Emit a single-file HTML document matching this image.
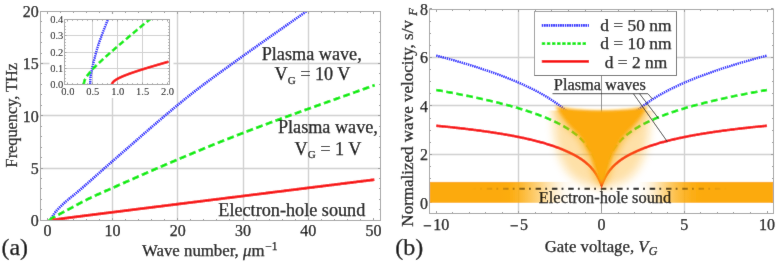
<!DOCTYPE html>
<html><head><meta charset="utf-8"><style>
html,body{margin:0;padding:0;background:#fff;}
body{width:780px;height:262px;overflow:hidden;font-family:"Liberation Serif",serif;}
svg{display:block;}
text{stroke:#000;stroke-width:0.25px;}
.thin text{stroke-width:0.02px;}
</style></head><body>
<svg width="780" height="262" viewBox="0 0 780 262">
<defs>
<clipPath id="cl"><rect x="40.5" y="11.5" width="340.0" height="209.0"/></clipPath>
<clipPath id="ci"><rect x="64.5" y="19.5" width="105.0" height="65.0"/></clipPath>
<clipPath id="cr"><rect x="429.5" y="9.5" width="344.0" height="204.0"/></clipPath>
<filter id="bl1" x="-50%" y="-50%" width="200%" height="200%"><feGaussianBlur stdDeviation="1.8"/></filter>
<clipPath id="cf"><rect x="430" y="110.5" width="344" height="103"/></clipPath>
<filter id="bl3" x="-50%" y="-50%" width="200%" height="200%"><feGaussianBlur stdDeviation="3.5"/></filter>
<filter id="bl2" x="-50%" y="-50%" width="200%" height="200%"><feGaussianBlur stdDeviation="5"/></filter>
<linearGradient id="band" x1="0" x2="1" y1="0" y2="0"><stop offset="0.2049" stop-color="#fcaa0a" stop-opacity="1.00"/><stop offset="0.2340" stop-color="#fcaa0a" stop-opacity="0.97"/><stop offset="0.2602" stop-color="#fcaa0a" stop-opacity="0.87"/><stop offset="0.2922" stop-color="#fcaa0a" stop-opacity="0.68"/><stop offset="0.3212" stop-color="#fcaa0a" stop-opacity="0.50"/><stop offset="0.3445" stop-color="#fcaa0a" stop-opacity="0.33"/><stop offset="0.3677" stop-color="#fcaa0a" stop-opacity="0.18"/><stop offset="0.3910" stop-color="#fcaa0a" stop-opacity="0.07"/><stop offset="0.4201" stop-color="#fcaa0a" stop-opacity="0.00"/><stop offset="0.6061" stop-color="#fcaa0a" stop-opacity="0.00"/><stop offset="0.6294" stop-color="#fcaa0a" stop-opacity="0.08"/><stop offset="0.6497" stop-color="#fcaa0a" stop-opacity="0.20"/><stop offset="0.6701" stop-color="#fcaa0a" stop-opacity="0.38"/><stop offset="0.6933" stop-color="#fcaa0a" stop-opacity="0.58"/><stop offset="0.7166" stop-color="#fcaa0a" stop-opacity="0.74"/><stop offset="0.7398" stop-color="#fcaa0a" stop-opacity="0.86"/><stop offset="0.7631" stop-color="#fcaa0a" stop-opacity="0.95"/><stop offset="0.7922" stop-color="#fcaa0a" stop-opacity="1.00"/></linearGradient>
<linearGradient id="lg" gradientUnits="userSpaceOnUse" x1="429.5" x2="773.5" y1="0" y2="0"><stop offset="0.1235" stop-color="#a06600" stop-opacity="0.00"/><stop offset="0.1672" stop-color="#955f00" stop-opacity="0.20"/><stop offset="0.2195" stop-color="#7a4d00" stop-opacity="0.40"/><stop offset="0.2631" stop-color="#553500" stop-opacity="0.62"/><stop offset="0.3154" stop-color="#2a1a00" stop-opacity="0.85"/><stop offset="0.3648" stop-color="#111111" stop-opacity="1.00"/><stop offset="0.6555" stop-color="#111111" stop-opacity="1.00"/><stop offset="0.6933" stop-color="#2a1a00" stop-opacity="0.80"/><stop offset="0.7398" stop-color="#553500" stop-opacity="0.60"/><stop offset="0.7922" stop-color="#7a4d00" stop-opacity="0.38"/><stop offset="0.8299" stop-color="#955f00" stop-opacity="0.20"/><stop offset="0.8677" stop-color="#a06600" stop-opacity="0.00"/></linearGradient>
<filter id="soft" x="0" y="0" width="780" height="262" filterUnits="userSpaceOnUse"><feConvolveMatrix order="3" kernelMatrix="0.0120 0.0480 0.0120 0.0480 0.7600 0.0480 0.0120 0.0480 0.0120" divisor="1" edgeMode="duplicate" preserveAlpha="true"/></filter>
</defs>
<rect width="780" height="262" fill="#fff"/>
<g filter="url(#soft)">
<rect width="780" height="262" fill="#fff"/>
<path d="M112.5,11.5V220.5M177.5,11.5V220.5M243.5,11.5V220.5M308.5,11.5V220.5M40.5,168.5H380.5M40.5,115.5H380.5M40.5,63.5H380.5" stroke="#d0d0d0" stroke-width="1.4" fill="none"/>
<path d="M47.5,220.5v-2.5M47.5,11.5v2.5M112.5,220.5v-2.5M112.5,11.5v2.5M177.5,220.5v-2.5M177.5,11.5v2.5M243.5,220.5v-2.5M243.5,11.5v2.5M308.5,220.5v-2.5M308.5,11.5v2.5M373.5,220.5v-2.5M373.5,11.5v2.5M60.5,220.5v-1.5M60.5,11.5v1.5M73.5,220.5v-1.5M73.5,11.5v1.5M86.5,220.5v-1.5M86.5,11.5v1.5M99.5,220.5v-1.5M99.5,11.5v1.5M125.5,220.5v-1.5M125.5,11.5v1.5M138.5,220.5v-1.5M138.5,11.5v1.5M151.5,220.5v-1.5M151.5,11.5v1.5M164.5,220.5v-1.5M164.5,11.5v1.5M190.5,220.5v-1.5M190.5,11.5v1.5M203.5,220.5v-1.5M203.5,11.5v1.5M216.5,220.5v-1.5M216.5,11.5v1.5M229.5,220.5v-1.5M229.5,11.5v1.5M256.5,220.5v-1.5M256.5,11.5v1.5M269.5,220.5v-1.5M269.5,11.5v1.5M282.5,220.5v-1.5M282.5,11.5v1.5M295.5,220.5v-1.5M295.5,11.5v1.5M321.5,220.5v-1.5M321.5,11.5v1.5M334.5,220.5v-1.5M334.5,11.5v1.5M347.5,220.5v-1.5M347.5,11.5v1.5M360.5,220.5v-1.5M360.5,11.5v1.5M40.5,220.5h2.5M380.5,220.5h-2.5M40.5,168.5h2.5M380.5,168.5h-2.5M40.5,115.5h2.5M380.5,115.5h-2.5M40.5,63.5h2.5M380.5,63.5h-2.5M40.5,11.5h2.5M380.5,11.5h-2.5M40.5,209.5h1.5M380.5,209.5h-1.5M40.5,199.5h1.5M380.5,199.5h-1.5M40.5,188.5h1.5M380.5,188.5h-1.5M40.5,178.5h1.5M380.5,178.5h-1.5M40.5,157.5h1.5M380.5,157.5h-1.5M40.5,147.5h1.5M380.5,147.5h-1.5M40.5,136.5h1.5M380.5,136.5h-1.5M40.5,126.5h1.5M380.5,126.5h-1.5M40.5,105.5h1.5M380.5,105.5h-1.5M40.5,94.5h1.5M380.5,94.5h-1.5M40.5,84.5h1.5M380.5,84.5h-1.5M40.5,73.5h1.5M380.5,73.5h-1.5M40.5,53.5h1.5M380.5,53.5h-1.5M40.5,42.5h1.5M380.5,42.5h-1.5M40.5,32.5h1.5M380.5,32.5h-1.5M40.5,21.5h1.5M380.5,21.5h-1.5" stroke="#9a9a9a" stroke-width="1" fill="none"/>
<g clip-path="url(#cl)" fill="none">
<path d="M50.40,220.30 L50.40,220.30 L50.40,220.29 L50.41,220.28 L50.42,220.26 L50.43,220.24 L50.44,220.22 L50.46,220.19 L50.47,220.15 L50.49,220.11 L50.52,220.07 L50.54,220.02 L50.57,219.96 L50.60,219.90 L50.63,219.84 L50.66,219.77 L50.70,219.69 L50.73,219.62 L50.78,219.53 L50.82,219.44 L50.86,219.35 L50.91,219.25 L50.96,219.15 L51.01,219.04 L51.07,218.93 L51.13,218.81 L51.18,218.69 L51.25,218.56 L51.31,218.43 L51.38,218.30 L51.44,218.16 L51.52,218.02 L51.59,217.87 L51.66,217.73 L51.74,217.58 L51.82,217.42 L51.90,217.27 L51.99,217.12 L52.08,216.96 L52.17,216.80 L52.26,216.64 L52.35,216.48 L52.45,216.31 L52.55,216.15 L52.65,215.98 L52.75,215.80 L52.86,215.63 L52.97,215.46 L53.08,215.28 L53.19,215.11 L53.30,214.93 L53.42,214.75 L53.54,214.57 L53.66,214.39 L53.79,214.22 L53.91,214.04 L54.04,213.86 L54.17,213.68 L54.31,213.50 L54.44,213.31 L54.58,213.13 L54.72,212.94 L54.86,212.75 L55.01,212.57 L55.16,212.38 L55.31,212.19 L55.46,211.99 L55.61,211.80 L55.77,211.61 L55.93,211.41 L56.09,211.22 L56.25,211.02 L56.42,210.83 L56.59,210.63 L56.76,210.43 L56.93,210.23 L57.11,210.03 L57.29,209.83 L57.47,209.63 L57.65,209.43 L57.83,209.23 L58.02,209.03 L58.21,208.83 L58.40,208.62 L58.60,208.42 L58.79,208.21 L58.99,208.01 L59.19,207.80 L59.39,207.60 L59.60,207.39 L59.81,207.18 L60.02,206.97 L60.23,206.76 L60.45,206.54 L60.66,206.33 L60.88,206.12 L61.10,205.90 L61.33,205.69 L61.56,205.47 L61.78,205.25 L62.02,205.03 L62.25,204.81 L62.48,204.59 L62.72,204.37 L62.96,204.15 L63.21,203.93 L63.45,203.70 L63.70,203.48 L63.95,203.25 L64.20,203.03 L64.45,202.80 L64.71,202.57 L64.97,202.34 L65.23,202.11 L65.50,201.88 L65.76,201.65 L66.03,201.42 L66.30,201.18 L66.57,200.95 L66.85,200.72 L67.13,200.48 L67.41,200.24 L67.69,200.00 L67.97,199.77 L68.26,199.53 L68.55,199.29 L68.84,199.04 L69.13,198.80 L69.43,198.56 L69.73,198.31 L70.03,198.06 L70.33,197.82 L70.64,197.57 L70.95,197.32 L71.26,197.06 L71.57,196.81 L71.88,196.55 L72.20,196.30 L72.52,196.04 L72.84,195.78 L73.17,195.52 L73.49,195.25 L73.82,194.99 L74.15,194.72 L74.49,194.45 L74.82,194.18 L75.16,193.90 L75.50,193.62 L75.84,193.34 L76.19,193.06 L76.54,192.78 L76.88,192.49 L77.24,192.20 L77.59,191.90 L77.95,191.61 L78.31,191.31 L78.67,191.00 L79.03,190.70 L79.40,190.39 L79.77,190.07 L80.14,189.75 L80.51,189.43 L80.88,189.10 L81.26,188.77 L81.64,188.44 L82.02,188.11 L82.41,187.77 L82.80,187.43 L83.18,187.09 L83.58,186.75 L83.97,186.40 L84.37,186.05 L84.76,185.70 L85.16,185.35 L85.57,185.00 L85.97,184.64 L86.38,184.28 L86.79,183.92 L87.20,183.55 L87.62,183.19 L88.04,182.82 L88.45,182.45 L88.88,182.07 L89.30,181.70 L89.73,181.32 L90.16,180.94 L90.59,180.56 L91.02,180.18 L91.45,179.79 L91.89,179.40 L92.33,179.01 L92.78,178.62 L93.22,178.22 L93.67,177.83 L94.12,177.43 L94.57,177.03 L95.02,176.62 L95.48,176.22 L95.94,175.81 L96.40,175.40 L96.86,174.99 L97.33,174.57 L97.80,174.16 L98.27,173.74 L98.74,173.32 L99.22,172.90 L99.69,172.48 L100.17,172.05 L100.65,171.62 L101.14,171.19 L101.63,170.76 L102.11,170.33 L102.61,169.90 L103.10,169.46 L103.60,169.02 L104.09,168.58 L104.59,168.14 L105.10,167.69 L105.60,167.25 L106.11,166.80 L106.62,166.35 L107.13,165.90 L107.65,165.45 L108.16,165.00 L108.68,164.54 L109.21,164.08 L109.73,163.63 L110.26,163.17 L110.78,162.70 L111.31,162.24 L111.85,161.78 L112.38,161.31 L112.92,160.85 L113.46,160.38 L114.00,159.91 L114.55,159.43 L115.10,158.96 L115.65,158.48 L116.20,158.00 L116.75,157.52 L117.31,157.03 L117.87,156.54 L118.43,156.06 L118.99,155.56 L119.56,155.07 L120.12,154.57 L120.69,154.08 L121.27,153.58 L121.84,153.08 L122.42,152.57 L123.00,152.06 L123.58,151.56 L124.17,151.05 L124.75,150.53 L125.34,150.02 L125.93,149.50 L126.53,148.98 L127.12,148.46 L127.72,147.94 L128.32,147.41 L128.92,146.89 L129.53,146.36 L130.14,145.83 L130.75,145.29 L131.36,144.76 L131.97,144.22 L132.59,143.68 L133.21,143.14 L133.83,142.60 L134.45,142.05 L135.08,141.50 L135.71,140.95 L136.34,140.40 L136.97,139.85 L137.61,139.29 L138.25,138.74 L138.89,138.18 L139.53,137.62 L140.17,137.06 L140.82,136.49 L141.47,135.93 L142.12,135.36 L142.77,134.79 L143.43,134.22 L144.09,133.64 L144.75,133.07 L145.41,132.49 L146.08,131.91 L146.75,131.33 L147.42,130.75 L148.09,130.17 L148.76,129.58 L149.44,128.99 L150.12,128.41 L150.80,127.82 L151.49,127.22 L152.17,126.63 L152.86,126.04 L153.55,125.44 L154.25,124.84 L154.94,124.24 L155.64,123.64 L156.34,123.04 L157.04,122.44 L157.75,121.83 L158.46,121.22 L159.17,120.62 L159.88,120.01 L160.59,119.40 L161.31,118.79 L162.03,118.17 L162.75,117.56 L163.47,116.94 L164.20,116.33 L164.93,115.71 L165.66,115.09 L166.39,114.47 L167.13,113.85 L167.87,113.22 L168.61,112.60 L169.35,111.98 L170.09,111.35 L170.84,110.72 L171.59,110.10 L172.34,109.47 L173.09,108.84 L173.85,108.21 L174.61,107.58 L175.37,106.95 L176.13,106.31 L176.90,105.68 L177.67,105.05 L178.44,104.41 L179.21,103.78 L179.98,103.14 L180.76,102.50 L181.54,101.87 L182.32,101.23 L183.11,100.59 L183.89,99.95 L184.68,99.31 L185.47,98.67 L186.26,98.04 L187.06,97.40 L187.86,96.75 L188.66,96.11 L189.46,95.47 L190.27,94.83 L191.07,94.19 L191.88,93.55 L192.70,92.91 L193.51,92.28 L194.33,91.64 L195.15,91.00 L195.97,90.37 L196.79,89.73 L197.62,89.10 L198.44,88.46 L199.27,87.83 L200.11,87.19 L200.94,86.56 L201.78,85.93 L202.62,85.29 L203.46,84.66 L204.31,84.03 L205.15,83.40 L206.00,82.76 L206.85,82.13 L207.71,81.50 L208.56,80.87 L209.42,80.23 L210.28,79.60 L211.15,78.97 L212.01,78.33 L212.88,77.70 L213.75,77.06 L214.62,76.43 L215.50,75.79 L216.37,75.16 L217.25,74.52 L218.13,73.88 L219.02,73.24 L219.90,72.60 L220.79,71.96 L221.68,71.32 L222.58,70.68 L223.47,70.03 L224.37,69.39 L225.27,68.74 L226.17,68.09 L227.08,67.44 L227.99,66.79 L228.90,66.14 L229.81,65.48 L230.72,64.83 L231.64,64.17 L232.56,63.51 L233.48,62.85 L234.40,62.18 L235.33,61.52 L236.26,60.85 L237.19,60.17 L238.12,59.50 L239.05,58.83 L239.99,58.15 L240.93,57.47 L241.87,56.80 L242.82,56.12 L243.76,55.44 L244.71,54.76 L245.66,54.08 L246.62,53.40 L247.57,52.71 L248.53,52.03 L249.49,51.34 L250.46,50.66 L251.42,49.97 L252.39,49.28 L253.36,48.59 L254.33,47.90 L255.31,47.21 L256.28,46.52 L257.26,45.83 L258.24,45.13 L259.23,44.44 L260.21,43.74 L261.20,43.04 L262.19,42.34 L263.19,41.64 L264.18,40.94 L265.18,40.24 L266.18,39.53 L267.18,38.83 L268.19,38.12 L269.19,37.41 L270.20,36.70 L271.22,35.99 L272.23,35.28 L273.25,34.57 L274.26,33.85 L275.29,33.14 L276.31,32.42 L277.33,31.70 L278.36,30.98 L279.39,30.26 L280.43,29.53 L281.46,28.81 L282.50,28.08 L283.54,27.35 L284.58,26.62 L285.62,25.89 L286.67,25.16 L287.72,24.43 L288.77,23.69 L289.82,22.95 L290.88,22.21 L291.94,21.47 L293.00,20.73 L294.06,19.98 L295.13,19.24 L296.19,18.49 L297.26,17.74 L298.34,16.99 L299.41,16.23 L300.49,15.48 L301.57,14.72 L302.65,13.96 L303.73,13.20 L304.82,12.43 L305.91,11.67 L307.00,10.90 L308.09,10.13 L309.19,9.36 L310.28,8.59 L311.03,8.06" stroke="#0a0aff" stroke-width="2.6" stroke-dasharray="1.35 0.85"/>
<path d="M49.55,220.30 L49.55,220.30 L49.56,220.30 L49.56,220.29 L49.57,220.28 L49.58,220.27 L49.60,220.26 L49.62,220.24 L49.63,220.22 L49.66,220.20 L49.68,220.17 L49.71,220.15 L49.74,220.12 L49.77,220.09 L49.81,220.05 L49.84,220.01 L49.88,219.97 L49.93,219.93 L49.97,219.88 L50.02,219.84 L50.07,219.78 L50.13,219.73 L50.18,219.67 L50.24,219.61 L50.30,219.55 L50.36,219.49 L50.43,219.42 L50.50,219.35 L50.57,219.28 L50.65,219.21 L50.72,219.14 L50.80,219.06 L50.88,218.99 L50.97,218.91 L51.06,218.83 L51.14,218.76 L51.24,218.68 L51.33,218.61 L51.43,218.54 L51.53,218.47 L51.63,218.40 L51.74,218.33 L51.85,218.26 L51.96,218.19 L52.07,218.13 L52.19,218.06 L52.30,217.99 L52.42,217.93 L52.55,217.86 L52.67,217.80 L52.80,217.73 L52.93,217.67 L53.07,217.60 L53.21,217.53 L53.34,217.46 L53.49,217.39 L53.63,217.32 L53.78,217.24 L53.93,217.16 L54.08,217.08 L54.23,216.99 L54.39,216.90 L54.55,216.82 L54.71,216.73 L54.88,216.64 L55.05,216.55 L55.22,216.45 L55.39,216.36 L55.57,216.26 L55.74,216.17 L55.92,216.07 L56.11,215.97 L56.29,215.87 L56.48,215.77 L56.67,215.66 L56.87,215.56 L57.06,215.45 L57.26,215.35 L57.46,215.24 L57.67,215.13 L57.88,215.02 L58.08,214.90 L58.30,214.79 L58.51,214.67 L58.73,214.56 L58.95,214.44 L59.17,214.32 L59.40,214.20 L59.62,214.08 L59.85,213.96 L60.09,213.83 L60.32,213.71 L60.56,213.58 L60.80,213.45 L61.04,213.32 L61.29,213.19 L61.54,213.06 L61.79,212.92 L62.04,212.79 L62.30,212.65 L62.56,212.51 L62.82,212.38 L63.08,212.24 L63.35,212.09 L63.62,211.95 L63.89,211.81 L64.17,211.66 L64.44,211.52 L64.72,211.37 L65.00,211.22 L65.29,211.07 L65.58,210.91 L65.87,210.76 L66.16,210.61 L66.45,210.45 L66.75,210.29 L67.05,210.13 L67.36,209.97 L67.66,209.81 L67.97,209.65 L68.28,209.48 L68.59,209.32 L68.91,209.15 L69.23,208.98 L69.55,208.81 L69.87,208.64 L70.20,208.46 L70.53,208.29 L70.86,208.11 L71.20,207.93 L71.53,207.75 L71.87,207.57 L72.21,207.38 L72.56,207.20 L72.91,207.01 L73.26,206.82 L73.61,206.63 L73.96,206.44 L74.32,206.24 L74.68,206.05 L75.04,205.85 L75.41,205.65 L75.78,205.45 L76.15,205.25 L76.52,205.05 L76.90,204.84 L77.28,204.64 L77.66,204.43 L78.04,204.22 L78.43,204.02 L78.82,203.81 L79.21,203.59 L79.60,203.38 L80.00,203.17 L80.40,202.96 L80.80,202.74 L81.20,202.53 L81.61,202.31 L82.02,202.09 L82.43,201.88 L82.85,201.66 L83.26,201.44 L83.68,201.22 L84.11,201.00 L84.53,200.78 L84.96,200.57 L85.39,200.35 L85.82,200.13 L86.26,199.91 L86.70,199.69 L87.14,199.47 L87.58,199.25 L88.03,199.03 L88.48,198.81 L88.93,198.60 L89.38,198.38 L89.84,198.16 L90.30,197.94 L90.76,197.72 L91.22,197.50 L91.69,197.27 L92.16,197.05 L92.63,196.83 L93.11,196.61 L93.59,196.39 L94.06,196.16 L94.55,195.94 L95.03,195.72 L95.52,195.49 L96.01,195.27 L96.50,195.04 L97.00,194.82 L97.50,194.59 L98.00,194.37 L98.50,194.14 L99.01,193.91 L99.52,193.68 L100.03,193.45 L100.54,193.22 L101.06,192.99 L101.58,192.76 L102.10,192.53 L102.62,192.30 L103.15,192.06 L103.68,191.83 L104.21,191.59 L104.74,191.36 L105.28,191.12 L105.82,190.88 L106.36,190.64 L106.91,190.40 L107.46,190.16 L108.01,189.92 L108.56,189.68 L109.11,189.43 L109.67,189.19 L110.23,188.94 L110.80,188.69 L111.36,188.44 L111.93,188.19 L112.50,187.93 L113.07,187.68 L113.65,187.42 L114.23,187.17 L114.81,186.91 L115.39,186.65 L115.98,186.39 L116.57,186.13 L117.16,185.86 L117.76,185.60 L118.35,185.34 L118.95,185.07 L119.56,184.80 L120.16,184.54 L120.77,184.27 L121.38,184.00 L121.99,183.72 L122.61,183.45 L123.22,183.18 L123.84,182.90 L124.47,182.63 L125.09,182.35 L125.72,182.07 L126.35,181.79 L126.98,181.51 L127.62,181.23 L128.26,180.95 L128.90,180.67 L129.54,180.38 L130.19,180.10 L130.84,179.81 L131.49,179.53 L132.15,179.24 L132.80,178.95 L133.46,178.66 L134.12,178.37 L134.79,178.07 L135.46,177.78 L136.13,177.48 L136.80,177.19 L137.47,176.89 L138.15,176.59 L138.83,176.30 L139.51,176.00 L140.20,175.70 L140.89,175.39 L141.58,175.09 L142.27,174.79 L142.97,174.48 L143.67,174.18 L144.37,173.87 L145.07,173.56 L145.78,173.25 L146.48,172.94 L147.20,172.63 L147.91,172.32 L148.63,172.01 L149.35,171.70 L150.07,171.38 L150.79,171.07 L151.52,170.75 L152.25,170.43 L152.98,170.11 L153.72,169.79 L154.45,169.47 L155.19,169.15 L155.94,168.83 L156.68,168.51 L157.43,168.18 L158.18,167.86 L158.93,167.53 L159.69,167.21 L160.45,166.88 L161.21,166.55 L161.97,166.22 L162.74,165.89 L163.51,165.56 L164.28,165.23 L165.05,164.90 L165.83,164.56 L166.61,164.23 L167.39,163.89 L168.17,163.56 L168.96,163.22 L169.75,162.88 L170.54,162.54 L171.34,162.20 L172.13,161.86 L172.93,161.52 L173.74,161.18 L174.54,160.84 L175.35,160.49 L176.16,160.15 L176.97,159.80 L177.79,159.46 L178.60,159.11 L179.43,158.76 L180.25,158.42 L181.07,158.07 L181.90,157.72 L182.73,157.37 L183.57,157.02 L184.40,156.66 L185.24,156.31 L186.08,155.96 L186.93,155.61 L187.78,155.25 L188.62,154.90 L189.48,154.54 L190.33,154.18 L191.19,153.83 L192.05,153.47 L192.91,153.11 L193.77,152.75 L194.64,152.39 L195.51,152.03 L196.39,151.67 L197.26,151.30 L198.14,150.94 L199.02,150.58 L199.90,150.21 L200.79,149.85 L201.68,149.48 L202.57,149.12 L203.46,148.75 L204.36,148.38 L205.26,148.01 L206.16,147.64 L207.06,147.27 L207.97,146.90 L208.88,146.53 L209.79,146.16 L210.70,145.79 L211.62,145.42 L212.54,145.04 L213.46,144.67 L214.39,144.29 L215.31,143.92 L216.24,143.54 L217.18,143.17 L218.11,142.79 L219.05,142.41 L219.99,142.04 L220.93,141.66 L221.88,141.28 L222.83,140.90 L223.78,140.52 L224.73,140.14 L225.69,139.76 L226.64,139.38 L227.61,139.00 L228.57,138.61 L229.54,138.23 L230.50,137.85 L231.48,137.46 L232.45,137.08 L233.43,136.70 L234.41,136.31 L235.39,135.93 L236.37,135.54 L237.36,135.16 L238.35,134.77 L239.34,134.38 L240.34,134.00 L241.33,133.61 L242.33,133.22 L243.34,132.84 L244.34,132.45 L245.35,132.06 L246.36,131.67 L247.37,131.28 L248.39,130.89 L249.41,130.50 L250.43,130.11 L251.45,129.73 L252.48,129.33 L253.51,128.94 L254.54,128.55 L255.57,128.16 L256.61,127.77 L257.65,127.38 L258.69,126.99 L259.74,126.59 L260.78,126.20 L261.83,125.81 L262.88,125.41 L263.94,125.02 L265.00,124.62 L266.06,124.23 L267.12,123.83 L268.18,123.44 L269.25,123.04 L270.32,122.65 L271.40,122.25 L272.47,121.85 L273.55,121.45 L274.63,121.05 L275.71,120.66 L276.80,120.26 L277.89,119.86 L278.98,119.46 L280.07,119.06 L281.17,118.65 L282.27,118.25 L283.37,117.85 L284.47,117.45 L285.58,117.04 L286.69,116.64 L287.80,116.24 L288.92,115.83 L290.03,115.43 L291.15,115.02 L292.28,114.61 L293.40,114.21 L294.53,113.80 L295.66,113.39 L296.79,112.98 L297.93,112.57 L299.07,112.16 L300.21,111.75 L301.35,111.34 L302.50,110.93 L303.64,110.52 L304.79,110.10 L305.95,109.69 L307.10,109.28 L308.26,108.86 L309.43,108.45 L310.59,108.03 L311.76,107.61 L312.93,107.19 L314.10,106.78 L315.27,106.36 L316.45,105.94 L317.63,105.52 L318.81,105.09 L320.00,104.67 L321.18,104.25 L322.37,103.82 L323.57,103.40 L324.76,102.97 L325.96,102.55 L327.16,102.12 L328.36,101.69 L329.57,101.26 L330.78,100.83 L331.99,100.40 L333.20,99.97 L334.42,99.54 L335.63,99.11 L336.86,98.67 L338.08,98.24 L339.31,97.80 L340.54,97.36 L341.77,96.92 L343.00,96.48 L344.24,96.04 L345.48,95.60 L346.72,95.16 L347.96,94.71 L349.21,94.27 L350.46,93.82 L351.71,93.38 L352.97,92.93 L354.23,92.48 L355.49,92.03 L356.75,91.58 L358.02,91.12 L359.28,90.67 L360.55,90.21 L361.83,89.76 L363.10,89.30 L364.38,88.84 L365.66,88.38 L366.95,87.92 L368.23,87.45 L369.52,86.99 L370.81,86.52 L372.11,86.06 L373.40,85.59 L374.70,85.12" stroke="#00ec00" stroke-width="2.8" stroke-dasharray="7 3.3"/>
<path d="M53.17,220.30 L53.17,220.28 L53.18,220.27 L53.18,220.25 L53.19,220.24 L53.20,220.22 L53.22,220.21 L53.23,220.19 L53.25,220.18 L53.27,220.16 L53.30,220.15 L53.33,220.13 L53.36,220.12 L53.39,220.10 L53.42,220.09 L53.46,220.07 L53.50,220.05 L53.54,220.04 L53.59,220.02 L53.63,220.01 L53.68,219.99 L53.74,219.97 L53.79,219.96 L53.85,219.94 L53.91,219.93 L53.97,219.91 L54.04,219.89 L54.11,219.88 L54.18,219.86 L54.25,219.84 L54.33,219.82 L54.40,219.81 L54.49,219.79 L54.57,219.77 L54.66,219.75 L54.74,219.74 L54.84,219.72 L54.93,219.70 L55.03,219.68 L55.12,219.66 L55.23,219.64 L55.33,219.62 L55.44,219.60 L55.55,219.59 L55.66,219.57 L55.77,219.55 L55.89,219.53 L56.01,219.51 L56.13,219.49 L56.26,219.47 L56.38,219.44 L56.51,219.42 L56.64,219.40 L56.78,219.38 L56.92,219.36 L57.06,219.34 L57.20,219.32 L57.34,219.29 L57.49,219.27 L57.64,219.25 L57.80,219.23 L57.95,219.20 L58.11,219.18 L58.27,219.16 L58.43,219.13 L58.60,219.11 L58.77,219.08 L58.94,219.06 L59.11,219.03 L59.29,219.01 L59.47,218.98 L59.65,218.96 L59.83,218.93 L60.02,218.91 L60.21,218.88 L60.40,218.85 L60.59,218.83 L60.79,218.80 L60.99,218.77 L61.19,218.74 L61.39,218.72 L61.60,218.69 L61.81,218.66 L62.02,218.63 L62.24,218.60 L62.45,218.57 L62.67,218.54 L62.90,218.51 L63.12,218.48 L63.35,218.45 L63.58,218.42 L63.81,218.39 L64.05,218.36 L64.28,218.33 L64.52,218.30 L64.77,218.26 L65.01,218.23 L65.26,218.20 L65.51,218.17 L65.76,218.13 L66.02,218.10 L66.28,218.07 L66.54,218.03 L66.80,218.00 L67.07,217.96 L67.34,217.93 L67.61,217.89 L67.88,217.86 L68.16,217.82 L68.44,217.79 L68.72,217.75 L69.00,217.71 L69.29,217.68 L69.58,217.64 L69.87,217.60 L70.16,217.56 L70.46,217.53 L70.76,217.49 L71.06,217.45 L71.36,217.41 L71.67,217.37 L71.98,217.33 L72.29,217.29 L72.61,217.25 L72.93,217.21 L73.25,217.17 L73.57,217.13 L73.89,217.09 L74.22,217.04 L74.55,217.00 L74.88,216.96 L75.22,216.92 L75.56,216.88 L75.90,216.83 L76.24,216.79 L76.59,216.74 L76.93,216.70 L77.29,216.66 L77.64,216.61 L77.99,216.57 L78.35,216.52 L78.71,216.48 L79.08,216.43 L79.44,216.38 L79.81,216.34 L80.18,216.29 L80.56,216.24 L80.93,216.19 L81.31,216.15 L81.69,216.10 L82.08,216.05 L82.47,216.00 L82.85,215.95 L83.25,215.90 L83.64,215.85 L84.04,215.80 L84.44,215.75 L84.84,215.70 L85.24,215.65 L85.65,215.60 L86.06,215.55 L86.47,215.50 L86.89,215.45 L87.31,215.39 L87.73,215.34 L88.15,215.29 L88.58,215.23 L89.00,215.18 L89.43,215.13 L89.87,215.07 L90.30,215.02 L90.74,214.96 L91.18,214.91 L91.62,214.85 L92.07,214.80 L92.52,214.74 L92.97,214.68 L93.42,214.63 L93.88,214.57 L94.34,214.51 L94.80,214.45 L95.26,214.40 L95.73,214.34 L96.20,214.28 L96.67,214.22 L97.14,214.16 L97.62,214.10 L98.10,214.04 L98.58,213.98 L99.07,213.92 L99.55,213.86 L100.04,213.80 L100.53,213.74 L101.03,213.67 L101.53,213.61 L102.03,213.55 L102.53,213.49 L103.03,213.42 L103.54,213.36 L104.05,213.30 L104.56,213.23 L105.08,213.17 L105.60,213.10 L106.12,213.04 L106.64,212.97 L107.17,212.91 L107.69,212.84 L108.22,212.78 L108.76,212.71 L109.29,212.64 L109.83,212.57 L110.37,212.51 L110.92,212.44 L111.46,212.37 L112.01,212.30 L112.56,212.23 L113.12,212.16 L113.67,212.10 L114.23,212.03 L114.79,211.96 L115.36,211.89 L115.92,211.81 L116.49,211.74 L117.06,211.67 L117.64,211.60 L118.21,211.53 L118.79,211.46 L119.38,211.38 L119.96,211.31 L120.55,211.24 L121.14,211.16 L121.73,211.09 L122.32,211.02 L122.92,210.94 L123.52,210.87 L124.13,210.79 L124.73,210.72 L125.34,210.64 L125.95,210.56 L126.56,210.49 L127.18,210.41 L127.79,210.33 L128.42,210.26 L129.04,210.18 L129.66,210.10 L130.29,210.02 L130.92,209.95 L131.56,209.87 L132.19,209.79 L132.83,209.71 L133.47,209.63 L134.12,209.55 L134.76,209.47 L135.41,209.39 L136.06,209.30 L136.72,209.22 L137.37,209.14 L138.03,209.06 L138.69,208.98 L139.36,208.89 L140.02,208.81 L140.69,208.73 L141.37,208.64 L142.04,208.56 L142.72,208.48 L143.40,208.39 L144.08,208.31 L144.76,208.22 L145.45,208.14 L146.14,208.05 L146.83,207.96 L147.53,207.88 L148.23,207.79 L148.93,207.70 L149.63,207.62 L150.34,207.53 L151.04,207.44 L151.75,207.35 L152.47,207.26 L153.18,207.17 L153.90,207.08 L154.62,206.99 L155.35,206.90 L156.07,206.81 L156.80,206.72 L157.53,206.63 L158.26,206.54 L159.00,206.45 L159.74,206.36 L160.48,206.27 L161.22,206.17 L161.97,206.08 L162.72,205.99 L163.47,205.89 L164.23,205.80 L164.98,205.71 L165.74,205.61 L166.50,205.52 L167.27,205.42 L168.04,205.33 L168.81,205.23 L169.58,205.13 L170.35,205.04 L171.13,204.94 L171.91,204.84 L172.69,204.75 L173.48,204.65 L174.26,204.55 L175.05,204.45 L175.85,204.35 L176.64,204.25 L177.44,204.16 L178.24,204.06 L179.04,203.96 L179.85,203.86 L180.66,203.76 L181.47,203.65 L182.28,203.55 L183.10,203.45 L183.92,203.35 L184.74,203.25 L185.56,203.15 L186.39,203.04 L187.22,202.94 L188.05,202.84 L188.88,202.73 L189.72,202.63 L190.56,202.52 L191.40,202.42 L192.24,202.31 L193.09,202.21 L193.94,202.10 L194.79,202.00 L195.64,201.89 L196.50,201.78 L197.36,201.68 L198.22,201.57 L199.09,201.46 L199.95,201.36 L200.82,201.25 L201.70,201.14 L202.57,201.03 L203.45,200.92 L204.33,200.81 L205.21,200.70 L206.10,200.59 L206.99,200.48 L207.88,200.37 L208.77,200.26 L209.66,200.15 L210.56,200.04 L211.46,199.92 L212.37,199.81 L213.27,199.70 L214.18,199.59 L215.09,199.47 L216.00,199.36 L216.92,199.25 L217.84,199.13 L218.76,199.02 L219.68,198.90 L220.61,198.79 L221.54,198.67 L222.47,198.56 L223.41,198.44 L224.34,198.32 L225.28,198.21 L226.22,198.09 L227.17,197.97 L228.11,197.85 L229.06,197.74 L230.02,197.62 L230.97,197.50 L231.93,197.38 L232.89,197.26 L233.85,197.14 L234.81,197.02 L235.78,196.90 L236.75,196.78 L237.72,196.66 L238.70,196.54 L239.68,196.42 L240.66,196.29 L241.64,196.17 L242.63,196.05 L243.61,195.93 L244.60,195.80 L245.60,195.68 L246.59,195.56 L247.59,195.43 L248.59,195.31 L249.60,195.18 L250.60,195.06 L251.61,194.93 L252.62,194.81 L253.64,194.68 L254.65,194.55 L255.67,194.43 L256.69,194.30 L257.72,194.17 L258.74,194.05 L259.77,193.92 L260.80,193.79 L261.84,193.66 L262.88,193.53 L263.91,193.40 L264.96,193.27 L266.00,193.14 L267.05,193.01 L268.10,192.88 L269.15,192.75 L270.21,192.62 L271.26,192.49 L272.32,192.36 L273.39,192.23 L274.45,192.09 L275.52,191.96 L276.59,191.83 L277.66,191.69 L278.74,191.56 L279.81,191.43 L280.89,191.29 L281.98,191.16 L283.06,191.02 L284.15,190.89 L285.24,190.75 L286.34,190.62 L287.43,190.48 L288.53,190.34 L289.63,190.21 L290.74,190.07 L291.84,189.93 L292.95,189.79 L294.06,189.65 L295.18,189.52 L296.29,189.38 L297.41,189.24 L298.53,189.10 L299.66,188.96 L300.78,188.82 L301.91,188.68 L303.05,188.54 L304.18,188.40 L305.32,188.26 L306.46,188.11 L307.60,187.97 L308.74,187.83 L309.89,187.69 L311.04,187.54 L312.19,187.40 L313.35,187.26 L314.51,187.11 L315.67,186.97 L316.83,186.82 L317.99,186.68 L319.16,186.53 L320.33,186.39 L321.51,186.24 L322.68,186.10 L323.86,185.95 L325.04,185.80 L326.22,185.66 L327.41,185.51 L328.60,185.36 L329.79,185.21 L330.98,185.07 L332.18,184.92 L333.38,184.77 L334.58,184.62 L335.78,184.47 L336.99,184.32 L338.20,184.17 L339.41,184.02 L340.62,183.87 L341.84,183.72 L343.06,183.56 L344.28,183.41 L345.51,183.26 L346.73,183.11 L347.96,182.95 L349.20,182.80 L350.43,182.65 L351.67,182.49 L352.91,182.34 L354.15,182.19 L355.39,182.03 L356.64,181.88 L357.89,181.72 L359.15,181.57 L360.40,181.41 L361.66,181.25 L362.92,181.10 L364.18,180.94 L365.45,180.78 L366.72,180.62 L367.99,180.47 L369.26,180.31 L370.54,180.15 L371.81,179.99 L373.09,179.83 L374.38,179.67" stroke="#f80808" stroke-width="2.8"/>
</g>
<rect x="40.5" y="11.5" width="340.0" height="209.0" fill="none" stroke="#a4a4a4" stroke-width="1"/>
<rect x="49.5" y="14" width="124" height="84" fill="#fff"/>
<path d="M92.5,19.5V84.5M117.5,19.5V84.5M142.5,19.5V84.5M64.5,68.5H169.5M64.5,52.5H169.5M64.5,35.5H169.5" stroke="#d0d0d0" stroke-width="1" fill="none"/>
<path d="M67.5,84.5v-2.0M67.5,19.5v2.0M92.5,84.5v-2.0M92.5,19.5v2.0M117.5,84.5v-2.0M117.5,19.5v2.0M142.5,84.5v-2.0M142.5,19.5v2.0M167.5,84.5v-2.0M167.5,19.5v2.0M72.5,84.5v-1.2M72.5,19.5v1.2M77.5,84.5v-1.2M77.5,19.5v1.2M82.5,84.5v-1.2M82.5,19.5v1.2M87.5,84.5v-1.2M87.5,19.5v1.2M97.5,84.5v-1.2M97.5,19.5v1.2M102.5,84.5v-1.2M102.5,19.5v1.2M107.5,84.5v-1.2M107.5,19.5v1.2M112.5,84.5v-1.2M112.5,19.5v1.2M122.5,84.5v-1.2M122.5,19.5v1.2M127.5,84.5v-1.2M127.5,19.5v1.2M132.5,84.5v-1.2M132.5,19.5v1.2M137.5,84.5v-1.2M137.5,19.5v1.2M147.5,84.5v-1.2M147.5,19.5v1.2M152.5,84.5v-1.2M152.5,19.5v1.2M157.5,84.5v-1.2M157.5,19.5v1.2M162.5,84.5v-1.2M162.5,19.5v1.2M64.5,84.5h2.0M169.5,84.5h-2.0M64.5,68.5h2.0M169.5,68.5h-2.0M64.5,52.5h2.0M169.5,52.5h-2.0M64.5,35.5h2.0M169.5,35.5h-2.0M64.5,19.5h2.0M169.5,19.5h-2.0M64.5,81.5h1.2M169.5,81.5h-1.2M64.5,78.5h1.2M169.5,78.5h-1.2M64.5,74.5h1.2M169.5,74.5h-1.2M64.5,71.5h1.2M169.5,71.5h-1.2M64.5,65.5h1.2M169.5,65.5h-1.2M64.5,61.5h1.2M169.5,61.5h-1.2M64.5,58.5h1.2M169.5,58.5h-1.2M64.5,55.5h1.2M169.5,55.5h-1.2M64.5,48.5h1.2M169.5,48.5h-1.2M64.5,45.5h1.2M169.5,45.5h-1.2M64.5,42.5h1.2M169.5,42.5h-1.2M64.5,39.5h1.2M169.5,39.5h-1.2M64.5,32.5h1.2M169.5,32.5h-1.2M64.5,29.5h1.2M169.5,29.5h-1.2M64.5,26.5h1.2M169.5,26.5h-1.2M64.5,22.5h1.2M169.5,22.5h-1.2" stroke="#9a9a9a" stroke-width="1" fill="none"/>
<g clip-path="url(#ci)" fill="none">
<path d="M90.11,84.60 L90.11,84.49 L90.11,84.37 L90.11,84.26 L90.11,84.15 L90.11,84.03 L90.11,83.92 L90.12,83.80 L90.12,83.69 L90.12,83.58 L90.12,83.46 L90.12,83.35 L90.13,83.24 L90.13,83.12 L90.13,83.01 L90.13,82.90 L90.14,82.78 L90.14,82.67 L90.14,82.55 L90.15,82.44 L90.15,82.33 L90.16,82.21 L90.16,82.10 L90.16,81.99 L90.17,81.87 L90.17,81.76 L90.18,81.64 L90.18,81.53 L90.19,81.42 L90.20,81.30 L90.20,81.19 L90.21,81.07 L90.21,80.96 L90.22,80.85 L90.23,80.73 L90.23,80.62 L90.24,80.50 L90.25,80.39 L90.26,80.28 L90.26,80.16 L90.27,80.05 L90.28,79.93 L90.29,79.82 L90.30,79.71 L90.31,79.59 L90.31,79.48 L90.32,79.36 L90.33,79.25 L90.34,79.13 L90.35,79.02 L90.36,78.90 L90.37,78.79 L90.38,78.67 L90.39,78.56 L90.40,78.45 L90.41,78.33 L90.43,78.22 L90.44,78.10 L90.45,77.99 L90.46,77.87 L90.47,77.76 L90.48,77.64 L90.50,77.53 L90.51,77.41 L90.52,77.30 L90.53,77.18 L90.55,77.07 L90.56,76.95 L90.58,76.84 L90.59,76.72 L90.60,76.60 L90.62,76.49 L90.63,76.37 L90.65,76.26 L90.66,76.14 L90.68,76.03 L90.69,75.91 L90.71,75.79 L90.72,75.68 L90.74,75.56 L90.75,75.45 L90.77,75.33 L90.79,75.21 L90.80,75.10 L90.82,74.98 L90.84,74.87 L90.85,74.75 L90.87,74.63 L90.89,74.52 L90.91,74.40 L90.92,74.28 L90.94,74.17 L90.96,74.05 L90.98,73.93 L91.00,73.82 L91.02,73.70 L91.04,73.58 L91.06,73.46 L91.08,73.35 L91.09,73.23 L91.11,73.11 L91.13,73.00 L91.16,72.88 L91.18,72.76 L91.20,72.64 L91.22,72.52 L91.24,72.41 L91.26,72.29 L91.28,72.17 L91.30,72.05 L91.33,71.93 L91.35,71.82 L91.37,71.70 L91.39,71.58 L91.42,71.46 L91.44,71.34 L91.46,71.22 L91.49,71.10 L91.51,70.99 L91.53,70.87 L91.56,70.75 L91.58,70.63 L91.61,70.51 L91.63,70.39 L91.65,70.27 L91.68,70.15 L91.70,70.03 L91.73,69.91 L91.76,69.79 L91.78,69.67 L91.81,69.55 L91.83,69.43 L91.86,69.31 L91.89,69.19 L91.91,69.07 L91.94,68.95 L91.97,68.83 L92.00,68.71 L92.02,68.60 L92.05,68.48 L92.08,68.37 L92.11,68.26 L92.14,68.14 L92.16,68.02 L92.19,67.91 L92.22,67.79 L92.25,67.67 L92.28,67.55 L92.31,67.43 L92.34,67.30 L92.37,67.18 L92.40,67.05 L92.43,66.93 L92.46,66.80 L92.49,66.68 L92.52,66.55 L92.55,66.42 L92.59,66.29 L92.62,66.16 L92.65,66.02 L92.68,65.89 L92.71,65.75 L92.75,65.62 L92.78,65.48 L92.81,65.35 L92.84,65.21 L92.88,65.07 L92.91,64.93 L92.94,64.79 L92.98,64.65 L93.01,64.50 L93.05,64.36 L93.08,64.21 L93.12,64.07 L93.15,63.92 L93.19,63.78 L93.22,63.63 L93.26,63.48 L93.29,63.33 L93.33,63.18 L93.36,63.03 L93.40,62.87 L93.44,62.72 L93.47,62.57 L93.51,62.41 L93.55,62.25 L93.58,62.10 L93.62,61.94 L93.66,61.78 L93.70,61.62 L93.74,61.46 L93.77,61.30 L93.81,61.14 L93.85,60.98 L93.89,60.82 L93.93,60.66 L93.97,60.49 L94.01,60.33 L94.05,60.16 L94.09,60.00 L94.13,59.83 L94.17,59.66 L94.21,59.50 L94.25,59.33 L94.29,59.16 L94.33,58.99 L94.37,58.82 L94.41,58.65 L94.45,58.48 L94.50,58.31 L94.54,58.14 L94.58,57.97 L94.62,57.79 L94.67,57.62 L94.71,57.45 L94.75,57.28 L94.79,57.10 L94.84,56.93 L94.88,56.76 L94.93,56.58 L94.97,56.41 L95.01,56.23 L95.06,56.06 L95.10,55.88 L95.15,55.71 L95.19,55.53 L95.24,55.36 L95.28,55.18 L95.33,55.01 L95.38,54.83 L95.42,54.66 L95.47,54.48 L95.51,54.31 L95.56,54.13 L95.61,53.96 L95.66,53.79 L95.70,53.61 L95.75,53.44 L95.80,53.27 L95.85,53.09 L95.89,52.92 L95.94,52.75 L95.99,52.58 L96.04,52.40 L96.09,52.23 L96.14,52.06 L96.19,51.89 L96.24,51.72 L96.29,51.55 L96.34,51.38 L96.39,51.21 L96.44,51.03 L96.49,50.86 L96.54,50.69 L96.59,50.52 L96.64,50.35 L96.69,50.18 L96.74,50.01 L96.79,49.84 L96.85,49.67 L96.90,49.50 L96.95,49.32 L97.00,49.15 L97.06,48.98 L97.11,48.81 L97.16,48.64 L97.21,48.47 L97.27,48.30 L97.32,48.13 L97.38,47.96 L97.43,47.79 L97.48,47.62 L97.54,47.45 L97.59,47.28 L97.65,47.10 L97.70,46.93 L97.76,46.76 L97.81,46.59 L97.87,46.42 L97.93,46.25 L97.98,46.08 L98.04,45.91 L98.09,45.74 L98.15,45.57 L98.21,45.39 L98.27,45.22 L98.32,45.05 L98.38,44.88 L98.44,44.71 L98.50,44.54 L98.55,44.37 L98.61,44.19 L98.67,44.02 L98.73,43.85 L98.79,43.68 L98.85,43.50 L98.91,43.33 L98.97,43.16 L99.03,42.99 L99.09,42.81 L99.15,42.64 L99.21,42.47 L99.27,42.29 L99.33,42.12 L99.39,41.94 L99.45,41.77 L99.51,41.60 L99.57,41.42 L99.63,41.25 L99.70,41.07 L99.76,40.89 L99.82,40.72 L99.88,40.54 L99.95,40.36 L100.01,40.19 L100.07,40.01 L100.14,39.83 L100.20,39.65 L100.26,39.47 L100.33,39.29 L100.39,39.11 L100.46,38.93 L100.52,38.75 L100.59,38.57 L100.65,38.39 L100.72,38.21 L100.78,38.02 L100.85,37.84 L100.91,37.66 L100.98,37.47 L101.04,37.29 L101.11,37.10 L101.18,36.91 L101.24,36.73 L101.31,36.54 L101.38,36.35 L101.45,36.16 L101.51,35.97 L101.58,35.78 L101.65,35.59 L101.72,35.41 L101.79,35.22 L101.85,35.03 L101.92,34.84 L101.99,34.65 L102.06,34.46 L102.13,34.27 L102.20,34.08 L102.27,33.89 L102.34,33.70 L102.41,33.51 L102.48,33.32 L102.55,33.13 L102.62,32.94 L102.69,32.75 L102.76,32.55 L102.83,32.36 L102.91,32.17 L102.98,31.98 L103.05,31.79 L103.12,31.60 L103.19,31.40 L103.27,31.21 L103.34,31.02 L103.41,30.83 L103.49,30.63 L103.56,30.44 L103.63,30.25 L103.71,30.06 L103.78,29.86 L103.86,29.67 L103.93,29.47 L104.00,29.28 L104.08,29.09 L104.15,28.89 L104.23,28.70 L104.30,28.50 L104.38,28.31 L104.46,28.11 L104.53,27.92 L104.61,27.72 L104.68,27.53 L104.76,27.33 L104.84,27.13 L104.91,26.94 L104.99,26.74 L105.07,26.54 L105.15,26.35 L105.22,26.15 L105.30,25.95 L105.38,25.75 L105.46,25.55 L105.54,25.36 L105.62,25.16 L105.70,24.96 L105.78,24.76 L105.85,24.56 L105.93,24.36 L106.01,24.16 L106.09,23.96 L106.17,23.76 L106.25,23.56 L106.34,23.36 L106.42,23.15 L106.50,22.95 L106.58,22.75 L106.66,22.55 L106.74,22.34 L106.82,22.14 L106.91,21.94 L106.99,21.73 L107.07,21.53 L107.15,21.32 L107.24,21.12 L107.32,20.91 L107.40,20.71 L107.49,20.50 L107.57,20.30 L107.65,20.09 L107.74,19.89 L107.82,19.68 L107.91,19.48 L107.99,19.28 L108.07,19.07 L108.16,18.87 L108.24,18.66 L108.33,18.46 L108.42,18.25 L108.50,18.05 L108.59,17.84 L108.67,17.64 L108.76,17.43 L108.85,17.23 L108.93,17.03 L109.02,16.82 L109.11,16.62 L109.20,16.41 L109.28,16.20 L109.37,16.00 L109.46,15.79 L109.55,15.59 L109.64,15.38 L109.72,15.18 L109.81,14.97 L109.90,14.76 L109.99,14.55 L110.08,14.35 L110.17,14.14 L110.26,13.93 L110.35,13.72 L110.44,13.51 L110.53,13.31 L110.62,13.10 L110.71,12.89 L110.80,12.68 L110.90,12.46 L110.99,12.25 L111.08,12.04 L111.17,11.83 L111.26,11.62 L111.32,11.47" stroke="#0a0aff" stroke-width="2.4" stroke-dasharray="1.35 0.85"/>
<path d="M83.84,84.60 L83.84,84.51 L83.84,84.43 L83.84,84.34 L83.84,84.25 L83.84,84.17 L83.85,84.08 L83.85,84.00 L83.86,83.91 L83.86,83.82 L83.87,83.74 L83.88,83.65 L83.89,83.56 L83.90,83.48 L83.91,83.39 L83.92,83.30 L83.93,83.22 L83.94,83.13 L83.95,83.04 L83.96,82.96 L83.98,82.87 L83.99,82.78 L84.01,82.69 L84.02,82.61 L84.04,82.52 L84.06,82.43 L84.08,82.35 L84.09,82.26 L84.11,82.17 L84.13,82.08 L84.16,82.00 L84.18,81.91 L84.20,81.82 L84.22,81.73 L84.25,81.64 L84.27,81.56 L84.30,81.47 L84.32,81.38 L84.35,81.29 L84.38,81.20 L84.40,81.11 L84.43,81.03 L84.46,80.94 L84.49,80.85 L84.52,80.76 L84.55,80.67 L84.59,80.58 L84.62,80.49 L84.65,80.40 L84.69,80.31 L84.72,80.22 L84.76,80.13 L84.79,80.04 L84.83,79.95 L84.87,79.86 L84.91,79.77 L84.95,79.68 L84.99,79.59 L85.03,79.50 L85.07,79.41 L85.11,79.31 L85.16,79.22 L85.20,79.13 L85.24,79.04 L85.29,78.95 L85.33,78.86 L85.38,78.76 L85.43,78.67 L85.48,78.58 L85.52,78.48 L85.57,78.39 L85.62,78.30 L85.67,78.20 L85.73,78.11 L85.78,78.02 L85.83,77.92 L85.88,77.83 L85.94,77.73 L85.99,77.64 L86.05,77.54 L86.11,77.45 L86.16,77.35 L86.22,77.26 L86.28,77.16 L86.34,77.07 L86.40,76.97 L86.46,76.87 L86.52,76.78 L86.58,76.68 L86.64,76.58 L86.71,76.48 L86.77,76.39 L86.84,76.29 L86.90,76.19 L86.97,76.09 L87.04,75.99 L87.10,75.89 L87.17,75.79 L87.24,75.69 L87.31,75.59 L87.38,75.49 L87.45,75.39 L87.53,75.29 L87.60,75.19 L87.67,75.09 L87.75,74.99 L87.82,74.89 L87.90,74.79 L87.97,74.68 L88.05,74.58 L88.13,74.48 L88.20,74.38 L88.28,74.27 L88.36,74.17 L88.44,74.07 L88.53,73.96 L88.61,73.86 L88.69,73.75 L88.77,73.65 L88.86,73.54 L88.94,73.44 L89.03,73.33 L89.11,73.22 L89.20,73.12 L89.29,73.01 L89.38,72.90 L89.47,72.79 L89.55,72.69 L89.65,72.58 L89.74,72.47 L89.83,72.36 L89.92,72.25 L90.01,72.14 L90.11,72.03 L90.20,71.92 L90.30,71.81 L90.39,71.70 L90.49,71.59 L90.59,71.48 L90.69,71.37 L90.79,71.25 L90.89,71.14 L90.99,71.03 L91.09,70.92 L91.19,70.80 L91.29,70.69 L91.39,70.57 L91.50,70.46 L91.60,70.34 L91.71,70.23 L91.81,70.11 L91.92,70.00 L92.03,69.88 L92.14,69.76 L92.25,69.65 L92.35,69.53 L92.46,69.41 L92.58,69.29 L92.69,69.17 L92.80,69.05 L92.91,68.94 L93.03,68.82 L93.14,68.70 L93.26,68.57 L93.37,68.45 L93.49,68.33 L93.61,68.21 L93.72,68.09 L93.84,67.97 L93.96,67.84 L94.08,67.72 L94.20,67.60 L94.33,67.47 L94.45,67.35 L94.57,67.22 L94.69,67.10 L94.82,66.97 L94.94,66.85 L95.07,66.72 L95.20,66.59 L95.32,66.47 L95.45,66.34 L95.58,66.21 L95.71,66.08 L95.84,65.95 L95.97,65.82 L96.10,65.69 L96.24,65.56 L96.37,65.43 L96.50,65.30 L96.64,65.17 L96.77,65.04 L96.91,64.91 L97.04,64.77 L97.18,64.64 L97.32,64.51 L97.46,64.37 L97.60,64.24 L97.74,64.11 L97.88,63.97 L98.02,63.83 L98.16,63.70 L98.30,63.56 L98.45,63.42 L98.59,63.29 L98.74,63.15 L98.88,63.01 L99.03,62.87 L99.18,62.73 L99.32,62.59 L99.47,62.45 L99.62,62.31 L99.77,62.17 L99.92,62.03 L100.07,61.89 L100.23,61.75 L100.38,61.61 L100.53,61.46 L100.69,61.32 L100.84,61.18 L101.00,61.03 L101.15,60.89 L101.31,60.74 L101.47,60.59 L101.63,60.45 L101.79,60.30 L101.95,60.15 L102.11,60.01 L102.27,59.86 L102.43,59.71 L102.59,59.56 L102.76,59.41 L102.92,59.26 L103.09,59.11 L103.25,58.96 L103.42,58.81 L103.58,58.66 L103.75,58.51 L103.92,58.35 L104.09,58.20 L104.26,58.05 L104.43,57.89 L104.60,57.74 L104.77,57.58 L104.95,57.43 L105.12,57.27 L105.29,57.11 L105.47,56.96 L105.64,56.80 L105.82,56.64 L106.00,56.48 L106.17,56.33 L106.35,56.17 L106.53,56.01 L106.71,55.85 L106.89,55.69 L107.07,55.52 L107.26,55.36 L107.44,55.20 L107.62,55.04 L107.81,54.87 L107.99,54.71 L108.18,54.55 L108.36,54.38 L108.55,54.22 L108.74,54.05 L108.92,53.89 L109.11,53.72 L109.30,53.55 L109.49,53.38 L109.68,53.22 L109.88,53.05 L110.07,52.88 L110.26,52.71 L110.46,52.54 L110.65,52.37 L110.85,52.20 L111.04,52.03 L111.24,51.85 L111.44,51.68 L111.63,51.51 L111.83,51.33 L112.03,51.16 L112.23,50.99 L112.43,50.81 L112.64,50.64 L112.84,50.46 L113.04,50.28 L113.25,50.11 L113.45,49.93 L113.66,49.75 L113.86,49.57 L114.07,49.39 L114.28,49.21 L114.48,49.03 L114.69,48.85 L114.90,48.67 L115.11,48.49 L115.32,48.31 L115.54,48.13 L115.75,47.94 L115.96,47.76 L116.17,47.58 L116.39,47.39 L116.60,47.21 L116.82,47.02 L117.04,46.83 L117.25,46.65 L117.47,46.46 L117.69,46.27 L117.91,46.08 L118.13,45.90 L118.35,45.71 L118.57,45.52 L118.80,45.33 L119.02,45.14 L119.24,44.94 L119.47,44.75 L119.69,44.56 L119.92,44.37 L120.14,44.17 L120.37,43.98 L120.60,43.79 L120.83,43.59 L121.06,43.40 L121.29,43.20 L121.52,43.00 L121.75,42.81 L121.98,42.61 L122.22,42.41 L122.45,42.21 L122.68,42.01 L122.92,41.81 L123.15,41.61 L123.39,41.41 L123.63,41.21 L123.87,41.01 L124.10,40.81 L124.34,40.60 L124.58,40.40 L124.82,40.20 L125.07,39.99 L125.31,39.79 L125.55,39.58 L125.80,39.38 L126.04,39.17 L126.28,38.96 L126.53,38.76 L126.78,38.55 L127.02,38.34 L127.27,38.13 L127.52,37.92 L127.77,37.71 L128.02,37.50 L128.27,37.29 L128.52,37.08 L128.77,36.87 L129.03,36.65 L129.28,36.44 L129.53,36.23 L129.79,36.01 L130.04,35.80 L130.30,35.58 L130.56,35.36 L130.82,35.15 L131.07,34.93 L131.33,34.71 L131.59,34.50 L131.85,34.28 L132.12,34.06 L132.38,33.84 L132.64,33.62 L132.90,33.40 L133.17,33.17 L133.43,32.95 L133.70,32.73 L133.96,32.51 L134.23,32.28 L134.50,32.06 L134.77,31.84 L135.04,31.61 L135.31,31.38 L135.58,31.16 L135.85,30.93 L136.12,30.70 L136.39,30.48 L136.67,30.25 L136.94,30.02 L137.22,29.79 L137.49,29.56 L137.77,29.33 L138.04,29.10 L138.32,28.87 L138.60,28.63 L138.88,28.40 L139.16,28.17 L139.44,27.93 L139.72,27.70 L140.00,27.47 L140.28,27.23 L140.57,26.99 L140.85,26.76 L141.14,26.52 L141.42,26.28 L141.71,26.05 L142.00,25.81 L142.28,25.57 L142.57,25.33 L142.86,25.09 L143.15,24.85 L143.44,24.60 L143.73,24.36 L144.02,24.12 L144.32,23.88 L144.61,23.63 L144.90,23.39 L145.20,23.14 L145.49,22.90 L145.79,22.65 L146.09,22.41 L146.38,22.16 L146.68,21.91 L146.98,21.67 L147.28,21.42 L147.58,21.17 L147.88,20.92 L148.18,20.67 L148.49,20.42 L148.79,20.17 L149.09,19.91 L149.40,19.66 L149.70,19.41 L150.01,19.16 L150.32,18.90 L150.62,18.65 L150.93,18.39 L151.24,18.14 L151.55,17.88 L151.86,17.62 L152.17,17.37 L152.48,17.11 L152.79,16.85 L153.11,16.59 L153.42,16.33 L153.74,16.07 L154.05,15.81 L154.37,15.55 L154.68,15.29 L155.00,15.03 L155.32,14.76 L155.64,14.50 L155.96,14.23 L156.28,13.97 L156.60,13.71 L156.92,13.44 L157.24,13.17 L157.57,12.91 L157.89,12.64 L158.21,12.37 L158.54,12.10 L158.86,11.83 L159.19,11.57 L159.30,11.47" stroke="#00ec00" stroke-width="2.6" stroke-dasharray="6 3"/>
<path d="M111.97,84.60 L111.97,84.56 L111.97,84.53 L111.98,84.49 L111.98,84.46 L111.98,84.42 L111.98,84.39 L111.98,84.35 L111.99,84.31 L111.99,84.28 L112.00,84.24 L112.00,84.21 L112.01,84.17 L112.01,84.14 L112.02,84.10 L112.02,84.06 L112.03,84.03 L112.04,83.99 L112.05,83.96 L112.05,83.92 L112.06,83.89 L112.07,83.85 L112.08,83.81 L112.09,83.78 L112.10,83.74 L112.11,83.71 L112.13,83.67 L112.14,83.64 L112.15,83.60 L112.16,83.56 L112.18,83.53 L112.19,83.49 L112.20,83.46 L112.22,83.42 L112.23,83.38 L112.25,83.35 L112.27,83.31 L112.28,83.28 L112.30,83.24 L112.32,83.20 L112.33,83.17 L112.35,83.13 L112.37,83.10 L112.39,83.06 L112.41,83.03 L112.43,82.99 L112.45,82.95 L112.47,82.92 L112.49,82.88 L112.52,82.85 L112.54,82.81 L112.56,82.77 L112.58,82.74 L112.61,82.70 L112.63,82.66 L112.66,82.63 L112.68,82.59 L112.71,82.56 L112.73,82.52 L112.76,82.48 L112.79,82.45 L112.81,82.41 L112.84,82.38 L112.87,82.34 L112.90,82.30 L112.93,82.27 L112.96,82.23 L112.99,82.19 L113.02,82.16 L113.05,82.12 L113.08,82.09 L113.11,82.05 L113.15,82.01 L113.18,81.98 L113.21,81.94 L113.24,81.90 L113.28,81.87 L113.31,81.83 L113.35,81.79 L113.38,81.76 L113.42,81.72 L113.46,81.68 L113.49,81.65 L113.53,81.61 L113.57,81.57 L113.61,81.54 L113.65,81.50 L113.68,81.46 L113.72,81.43 L113.76,81.39 L113.80,81.35 L113.85,81.32 L113.89,81.28 L113.93,81.24 L113.97,81.21 L114.01,81.17 L114.06,81.13 L114.10,81.10 L114.14,81.06 L114.19,81.02 L114.23,80.98 L114.28,80.95 L114.33,80.91 L114.37,80.87 L114.42,80.84 L114.47,80.80 L114.51,80.76 L114.56,80.72 L114.61,80.69 L114.66,80.65 L114.71,80.61 L114.76,80.58 L114.81,80.54 L114.86,80.50 L114.91,80.46 L114.96,80.43 L115.02,80.39 L115.07,80.35 L115.12,80.31 L115.17,80.28 L115.23,80.24 L115.28,80.20 L115.34,80.16 L115.39,80.12 L115.45,80.09 L115.51,80.05 L115.56,80.01 L115.62,79.97 L115.68,79.94 L115.74,79.90 L115.79,79.86 L115.85,79.82 L115.91,79.78 L115.97,79.75 L116.03,79.71 L116.09,79.67 L116.15,79.63 L116.22,79.59 L116.28,79.55 L116.34,79.52 L116.40,79.48 L116.47,79.44 L116.53,79.40 L116.60,79.36 L116.66,79.32 L116.73,79.29 L116.79,79.25 L116.86,79.21 L116.93,79.17 L116.99,79.13 L117.06,79.09 L117.13,79.05 L117.20,79.02 L117.27,78.98 L117.33,78.94 L117.40,78.90 L117.48,78.86 L117.55,78.82 L117.62,78.78 L117.69,78.74 L117.76,78.70 L117.83,78.66 L117.91,78.63 L117.98,78.59 L118.05,78.55 L118.13,78.51 L118.20,78.47 L118.28,78.43 L118.35,78.39 L118.43,78.35 L118.51,78.31 L118.58,78.27 L118.66,78.23 L118.74,78.19 L118.82,78.15 L118.90,78.11 L118.98,78.07 L119.06,78.03 L119.14,77.99 L119.22,77.95 L119.30,77.91 L119.38,77.87 L119.46,77.83 L119.54,77.79 L119.63,77.75 L119.71,77.71 L119.79,77.67 L119.88,77.63 L119.96,77.59 L120.05,77.55 L120.13,77.51 L120.22,77.47 L120.31,77.43 L120.39,77.39 L120.48,77.35 L120.57,77.31 L120.66,77.27 L120.75,77.23 L120.84,77.18 L120.93,77.14 L121.02,77.10 L121.11,77.06 L121.20,77.02 L121.29,76.98 L121.38,76.94 L121.47,76.90 L121.57,76.86 L121.66,76.81 L121.75,76.77 L121.85,76.73 L121.94,76.69 L122.04,76.65 L122.13,76.61 L122.23,76.57 L122.33,76.52 L122.42,76.48 L122.52,76.44 L122.62,76.40 L122.72,76.36 L122.82,76.31 L122.92,76.27 L123.02,76.23 L123.12,76.19 L123.22,76.15 L123.32,76.10 L123.42,76.06 L123.52,76.02 L123.62,75.98 L123.73,75.93 L123.83,75.89 L123.93,75.85 L124.04,75.81 L124.14,75.76 L124.25,75.72 L124.35,75.68 L124.46,75.64 L124.57,75.59 L124.67,75.55 L124.78,75.51 L124.89,75.46 L125.00,75.42 L125.10,75.38 L125.21,75.33 L125.32,75.29 L125.43,75.25 L125.54,75.20 L125.66,75.16 L125.77,75.12 L125.88,75.07 L125.99,75.03 L126.10,74.99 L126.22,74.94 L126.33,74.90 L126.44,74.85 L126.56,74.81 L126.67,74.77 L126.79,74.72 L126.91,74.68 L127.02,74.63 L127.14,74.59 L127.26,74.55 L127.37,74.50 L127.49,74.46 L127.61,74.41 L127.73,74.37 L127.85,74.32 L127.97,74.28 L128.09,74.23 L128.21,74.19 L128.33,74.14 L128.46,74.10 L128.58,74.05 L128.70,74.01 L128.82,73.96 L128.95,73.92 L129.07,73.87 L129.20,73.83 L129.32,73.78 L129.45,73.74 L129.57,73.69 L129.70,73.64 L129.83,73.60 L129.95,73.55 L130.08,73.51 L130.21,73.46 L130.34,73.42 L130.47,73.37 L130.60,73.32 L130.73,73.28 L130.86,73.23 L130.99,73.18 L131.12,73.14 L131.25,73.09 L131.38,73.05 L131.52,73.00 L131.65,72.95 L131.78,72.91 L131.92,72.86 L132.05,72.81 L132.19,72.76 L132.32,72.72 L132.46,72.67 L132.59,72.62 L132.73,72.58 L132.87,72.53 L133.01,72.48 L133.14,72.43 L133.28,72.39 L133.42,72.34 L133.56,72.29 L133.70,72.24 L133.84,72.20 L133.98,72.15 L134.12,72.10 L134.26,72.05 L134.41,72.00 L134.55,71.96 L134.69,71.91 L134.84,71.86 L134.98,71.81 L135.12,71.76 L135.27,71.71 L135.42,71.67 L135.56,71.62 L135.71,71.57 L135.85,71.52 L136.00,71.47 L136.15,71.42 L136.30,71.37 L136.45,71.32 L136.59,71.27 L136.74,71.23 L136.89,71.18 L137.04,71.13 L137.19,71.08 L137.35,71.03 L137.50,70.98 L137.65,70.93 L137.80,70.88 L137.96,70.83 L138.11,70.78 L138.26,70.73 L138.42,70.68 L138.57,70.63 L138.73,70.58 L138.88,70.53 L139.04,70.48 L139.20,70.43 L139.35,70.38 L139.51,70.33 L139.67,70.28 L139.83,70.23 L139.99,70.17 L140.15,70.12 L140.31,70.07 L140.47,70.02 L140.63,69.97 L140.79,69.92 L140.95,69.87 L141.11,69.82 L141.27,69.76 L141.44,69.71 L141.60,69.66 L141.76,69.61 L141.93,69.56 L142.09,69.51 L142.26,69.45 L142.43,69.40 L142.59,69.35 L142.76,69.30 L142.92,69.25 L143.09,69.19 L143.26,69.14 L143.43,69.09 L143.60,69.04 L143.77,68.98 L143.94,68.93 L144.11,68.88 L144.28,68.83 L144.45,68.77 L144.62,68.72 L144.79,68.67 L144.97,68.61 L145.14,68.56 L145.31,68.51 L145.49,68.45 L145.66,68.40 L145.83,68.35 L146.01,68.29 L146.19,68.24 L146.36,68.18 L146.54,68.13 L146.72,68.08 L146.89,68.02 L147.07,67.97 L147.25,67.91 L147.43,67.86 L147.61,67.80 L147.79,67.75 L147.97,67.70 L148.15,67.64 L148.33,67.59 L148.51,67.53 L148.69,67.48 L148.87,67.42 L149.06,67.37 L149.24,67.31 L149.42,67.26 L149.61,67.20 L149.79,67.15 L149.98,67.09 L150.16,67.03 L150.35,66.98 L150.54,66.92 L150.72,66.87 L150.91,66.81 L151.10,66.75 L151.29,66.70 L151.48,66.64 L151.67,66.59 L151.86,66.53 L152.05,66.47 L152.24,66.42 L152.43,66.36 L152.62,66.30 L152.81,66.25 L153.00,66.19 L153.20,66.13 L153.39,66.08 L153.58,66.02 L153.78,65.96 L153.97,65.90 L154.17,65.85 L154.36,65.79 L154.56,65.73 L154.76,65.67 L154.95,65.62 L155.15,65.56 L155.35,65.50 L155.55,65.44 L155.74,65.38 L155.94,65.33 L156.14,65.27 L156.34,65.21 L156.54,65.15 L156.74,65.09 L156.95,65.03 L157.15,64.97 L157.35,64.92 L157.55,64.86 L157.76,64.80 L157.96,64.74 L158.16,64.68 L158.37,64.62 L158.57,64.56 L158.78,64.50 L158.99,64.44 L159.19,64.38 L159.40,64.32 L159.61,64.26 L159.81,64.20 L160.02,64.14 L160.23,64.08 L160.44,64.02 L160.65,63.96 L160.86,63.90 L161.07,63.84 L161.28,63.78 L161.49,63.72 L161.70,63.66 L161.92,63.60 L162.13,63.54 L162.34,63.48 L162.56,63.42 L162.77,63.35 L162.99,63.29 L163.20,63.23 L163.42,63.17 L163.63,63.11 L163.85,63.05 L164.06,62.99 L164.28,62.92 L164.50,62.86 L164.72,62.80 L164.94,62.74 L165.16,62.68 L165.38,62.61 L165.60,62.55 L165.82,62.49 L166.04,62.43 L166.26,62.36 L166.48,62.30 L166.70,62.24 L166.92,62.18 L167.15,62.11 L167.37,62.05 L167.60,61.99 L167.82,61.92 L168.04,61.86 L168.27,61.80 L168.50,61.73" stroke="#f80808" stroke-width="2.6"/>
</g>
<rect x="64.5" y="19.5" width="105.0" height="65.0" fill="none" stroke="#a4a4a4" stroke-width="1"/>
<g class="thin" font-family="Liberation Serif" font-size="10.5" fill="#000">
<text x="63.30" y="88.20" text-anchor="end">0.0</text>
<text x="63.30" y="71.95" text-anchor="end">0.1</text>
<text x="63.30" y="55.70" text-anchor="end">0.2</text>
<text x="63.30" y="39.45" text-anchor="end">0.3</text>
<text x="63.30" y="23.20" text-anchor="end">0.4</text>
<text x="67.90" y="94.80" text-anchor="middle">0.0</text>
<text x="92.80" y="94.80" text-anchor="middle">0.5</text>
<text x="117.70" y="94.80" text-anchor="middle">1.0</text>
<text x="142.60" y="94.80" text-anchor="middle">1.5</text>
<text x="167.50" y="94.80" text-anchor="middle">2.0</text>
</g>
<path d="M518.5,9.5V213.5M684.5,9.5V213.5M429.5,154.5H773.5M429.5,105.5H773.5M429.5,57.5H773.5" stroke="#d0d0d0" stroke-width="1.4" fill="none"/>
<path d="M601.5,9.5V213.5" stroke="#8a8a8a" stroke-width="1" fill="none"/>
<path d="M436.5,213.5v-2.5M436.5,9.5v2.5M518.5,213.5v-2.5M518.5,9.5v2.5M601.5,213.5v-2.5M601.5,9.5v2.5M684.5,213.5v-2.5M684.5,9.5v2.5M767.5,213.5v-2.5M767.5,9.5v2.5M452.5,213.5v-1.5M452.5,9.5v1.5M469.5,213.5v-1.5M469.5,9.5v1.5M485.5,213.5v-1.5M485.5,9.5v1.5M502.5,213.5v-1.5M502.5,9.5v1.5M535.5,213.5v-1.5M535.5,9.5v1.5M551.5,213.5v-1.5M551.5,9.5v1.5M568.5,213.5v-1.5M568.5,9.5v1.5M585.5,213.5v-1.5M585.5,9.5v1.5M618.5,213.5v-1.5M618.5,9.5v1.5M634.5,213.5v-1.5M634.5,9.5v1.5M651.5,213.5v-1.5M651.5,9.5v1.5M667.5,213.5v-1.5M667.5,9.5v1.5M700.5,213.5v-1.5M700.5,9.5v1.5M717.5,213.5v-1.5M717.5,9.5v1.5M733.5,213.5v-1.5M733.5,9.5v1.5M750.5,213.5v-1.5M750.5,9.5v1.5M429.5,202.5h2.5M773.5,202.5h-2.5M429.5,154.5h2.5M773.5,154.5h-2.5M429.5,105.5h2.5M773.5,105.5h-2.5M429.5,57.5h2.5M773.5,57.5h-2.5M429.5,8.5h2.5M773.5,8.5h-2.5M429.5,190.5h1.5M773.5,190.5h-1.5M429.5,178.5h1.5M773.5,178.5h-1.5M429.5,166.5h1.5M773.5,166.5h-1.5M429.5,142.5h1.5M773.5,142.5h-1.5M429.5,130.5h1.5M773.5,130.5h-1.5M429.5,118.5h1.5M773.5,118.5h-1.5M429.5,93.5h1.5M773.5,93.5h-1.5M429.5,81.5h1.5M773.5,81.5h-1.5M429.5,69.5h1.5M773.5,69.5h-1.5M429.5,45.5h1.5M773.5,45.5h-1.5M429.5,33.5h1.5M773.5,33.5h-1.5M429.5,21.5h1.5M773.5,21.5h-1.5" stroke="#9a9a9a" stroke-width="1" fill="none"/>
<g clip-path="url(#cr)">
<rect x="429.50" y="181.9" width="344.00" height="20.9" fill="url(#band)"/>
<path d="M468,188.7H740" stroke="url(#lg)" stroke-width="2" stroke-dasharray="5.5 4.2 1.8 4.8" stroke-dashoffset="13.9" fill="none"/>
<g fill="none">
<path d="M436.20,55.57 L437.44,55.89 L438.67,56.22 L439.91,56.54 L441.14,56.87 L442.36,57.20 L443.59,57.52 L444.81,57.85 L446.02,58.18 L447.24,58.51 L448.45,58.84 L449.66,59.18 L450.86,59.51 L452.06,59.85 L453.26,60.18 L454.45,60.52 L455.65,60.86 L456.83,61.19 L458.02,61.53 L459.20,61.87 L460.38,62.22 L461.55,62.56 L462.73,62.90 L463.89,63.25 L465.06,63.59 L466.22,63.94 L467.38,64.29 L468.54,64.64 L469.69,64.99 L470.84,65.34 L471.98,65.70 L473.12,66.05 L474.26,66.41 L475.40,66.76 L476.53,67.12 L477.66,67.48 L478.78,67.84 L479.91,68.20 L481.02,68.57 L482.14,68.93 L483.25,69.30 L484.36,69.67 L485.46,70.04 L486.56,70.41 L487.66,70.78 L488.75,71.15 L489.84,71.53 L490.93,71.90 L492.01,72.28 L493.09,72.66 L494.17,73.04 L495.24,73.43 L496.31,73.81 L497.38,74.20 L498.44,74.58 L499.50,74.97 L500.55,75.36 L501.60,75.76 L502.65,76.15 L503.69,76.55 L504.73,76.95 L505.77,77.35 L506.80,77.75 L507.83,78.15 L508.85,78.56 L509.87,78.97 L510.89,79.38 L511.91,79.79 L512.91,80.20 L513.92,80.62 L514.92,81.04 L515.92,81.46 L516.92,81.88 L517.91,82.31 L518.89,82.73 L519.87,83.16 L520.85,83.59 L521.83,84.03 L522.80,84.46 L523.77,84.90 L524.73,85.34 L525.69,85.79 L526.64,86.23 L527.59,86.68 L528.54,87.14 L529.48,87.59 L530.42,88.05 L531.36,88.51 L532.29,88.97 L533.21,89.44 L534.13,89.91 L535.05,90.38 L535.97,90.85 L536.88,91.33 L537.78,91.81 L538.68,92.30 L539.58,92.78 L540.47,93.27 L541.36,93.77 L542.24,94.27 L543.12,94.77 L544.00,95.27 L544.87,95.78 L545.73,96.30 L546.60,96.81 L547.45,97.33 L548.31,97.86 L549.15,98.38 L550.00,98.92 L550.84,99.45 L551.67,99.99 L552.50,100.54 L553.33,101.09 L554.15,101.64 L554.96,102.20 L555.77,102.77 L556.58,103.34 L557.38,103.91 L558.18,104.49 L558.97,105.07 L559.76,105.66 L560.54,106.26 L561.32,106.86 L562.09,107.46 L562.86,108.07 L563.62,108.69 L564.37,109.32 L565.13,109.95 L565.87,110.58 L566.62,111.22 L567.35,111.87 L568.08,112.53 L568.81,113.19 L569.53,113.86 L570.25,114.54 L570.95,115.23 L571.66,115.92 L572.36,116.62 L573.05,117.33 L573.74,118.05 L574.42,118.78 L575.10,119.51 L575.77,120.25 L576.43,121.01 L577.09,121.77 L577.75,122.54 L578.40,123.33 L579.04,124.12 L579.67,124.92 L580.30,125.74 L580.93,126.56 L581.54,127.40 L582.15,128.25 L582.76,129.11 L583.36,129.98 L583.95,130.87 L584.53,131.77 L585.11,132.69 L585.68,133.61 L586.25,134.56 L586.81,135.52 L587.36,136.49 L587.90,137.48 L588.44,138.48 L588.97,139.51 L589.49,140.55 L590.01,141.61 L590.51,142.68 L591.01,143.78 L591.51,144.90 L591.99,146.03 L592.47,147.19 L592.94,148.37 L593.40,149.57 L593.85,150.79 L594.29,152.03 L594.72,153.30 L595.15,154.59 L595.57,155.91 L595.97,157.25 L596.37,158.61 L596.76,160.00 L597.13,161.42 L597.50,162.85 L597.86,164.31 L598.20,165.79 L598.54,167.29 L598.86,168.81 L599.17,170.34 L599.47,171.89 L599.75,173.43 L600.02,174.98 L600.28,176.52 L600.52,178.03 L600.74,179.50 L600.95,180.93 L601.13,182.27 L601.30,183.50 L601.43,184.58 L601.54,185.44 L601.60,185.93 L601.66,185.44 L601.77,184.58 L601.90,183.50 L602.07,182.27 L602.25,180.93 L602.46,179.50 L602.68,178.03 L602.92,176.52 L603.18,174.98 L603.45,173.43 L603.73,171.89 L604.03,170.34 L604.34,168.81 L604.66,167.29 L605.00,165.79 L605.34,164.31 L605.70,162.85 L606.07,161.42 L606.44,160.00 L606.83,158.61 L607.23,157.25 L607.63,155.91 L608.05,154.59 L608.48,153.30 L608.91,152.03 L609.35,150.79 L609.80,149.57 L610.26,148.37 L610.73,147.19 L611.21,146.03 L611.69,144.90 L612.19,143.78 L612.69,142.68 L613.19,141.61 L613.71,140.55 L614.23,139.51 L614.76,138.48 L615.30,137.48 L615.84,136.49 L616.39,135.52 L616.95,134.56 L617.52,133.61 L618.09,132.69 L618.67,131.77 L619.25,130.87 L619.84,129.98 L620.44,129.11 L621.05,128.25 L621.66,127.40 L622.27,126.56 L622.90,125.74 L623.53,124.92 L624.16,124.12 L624.80,123.33 L625.45,122.54 L626.11,121.77 L626.77,121.01 L627.43,120.25 L628.10,119.51 L628.78,118.78 L629.46,118.05 L630.15,117.33 L630.84,116.62 L631.54,115.92 L632.25,115.23 L632.95,114.54 L633.67,113.86 L634.39,113.19 L635.12,112.53 L635.85,111.87 L636.58,111.22 L637.33,110.58 L638.07,109.95 L638.83,109.32 L639.58,108.69 L640.34,108.07 L641.11,107.46 L641.88,106.86 L642.66,106.26 L643.44,105.66 L644.23,105.07 L645.02,104.49 L645.82,103.91 L646.62,103.34 L647.43,102.77 L648.24,102.20 L649.05,101.64 L649.87,101.09 L650.70,100.54 L651.53,99.99 L652.36,99.45 L653.20,98.92 L654.05,98.38 L654.89,97.86 L655.75,97.33 L656.60,96.81 L657.47,96.30 L658.33,95.78 L659.20,95.27 L660.08,94.77 L660.96,94.27 L661.84,93.77 L662.73,93.27 L663.62,92.78 L664.52,92.30 L665.42,91.81 L666.32,91.33 L667.23,90.85 L668.15,90.38 L669.07,89.91 L669.99,89.44 L670.91,88.97 L671.84,88.51 L672.78,88.05 L673.72,87.59 L674.66,87.14 L675.61,86.68 L676.56,86.23 L677.51,85.79 L678.47,85.34 L679.43,84.90 L680.40,84.46 L681.37,84.03 L682.35,83.59 L683.33,83.16 L684.31,82.73 L685.29,82.31 L686.28,81.88 L687.28,81.46 L688.28,81.04 L689.28,80.62 L690.29,80.20 L691.29,79.79 L692.31,79.38 L693.33,78.97 L694.35,78.56 L695.37,78.15 L696.40,77.75 L697.43,77.35 L698.47,76.95 L699.51,76.55 L700.55,76.15 L701.60,75.76 L702.65,75.36 L703.70,74.97 L704.76,74.58 L705.82,74.20 L706.89,73.81 L707.96,73.43 L709.03,73.04 L710.11,72.66 L711.19,72.28 L712.27,71.90 L713.36,71.53 L714.45,71.15 L715.54,70.78 L716.64,70.41 L717.74,70.04 L718.84,69.67 L719.95,69.30 L721.06,68.93 L722.18,68.57 L723.29,68.20 L724.42,67.84 L725.54,67.48 L726.67,67.12 L727.80,66.76 L728.94,66.41 L730.08,66.05 L731.22,65.70 L732.36,65.34 L733.51,64.99 L734.66,64.64 L735.82,64.29 L736.98,63.94 L738.14,63.59 L739.31,63.25 L740.47,62.90 L741.65,62.56 L742.82,62.22 L744.00,61.87 L745.18,61.53 L746.37,61.19 L747.55,60.86 L748.75,60.52 L749.94,60.18 L751.14,59.85 L752.34,59.51 L753.54,59.18 L754.75,58.84 L755.96,58.51 L757.18,58.18 L758.39,57.85 L759.61,57.52 L760.84,57.20 L762.06,56.87 L763.29,56.54 L764.53,56.22 L765.76,55.89 L767.00,55.57" stroke="#0a0aff" stroke-width="2.4" stroke-dasharray="1.35 0.85"/>
<path d="M436.20,89.95 L437.44,90.17 L438.67,90.39 L439.91,90.61 L441.14,90.83 L442.36,91.05 L443.59,91.27 L444.81,91.49 L446.02,91.72 L447.24,91.94 L448.45,92.16 L449.66,92.39 L450.86,92.62 L452.06,92.84 L453.26,93.07 L454.45,93.30 L455.65,93.53 L456.83,93.76 L458.02,93.99 L459.20,94.22 L460.38,94.45 L461.55,94.68 L462.73,94.91 L463.89,95.15 L465.06,95.38 L466.22,95.62 L467.38,95.85 L468.54,96.09 L469.69,96.33 L470.84,96.57 L471.98,96.81 L473.12,97.05 L474.26,97.29 L475.40,97.53 L476.53,97.78 L477.66,98.02 L478.78,98.26 L479.91,98.51 L481.02,98.76 L482.14,99.00 L483.25,99.25 L484.36,99.50 L485.46,99.75 L486.56,100.01 L487.66,100.26 L488.75,100.51 L489.84,100.77 L490.93,101.02 L492.01,101.28 L493.09,101.54 L494.17,101.80 L495.24,102.06 L496.31,102.32 L497.38,102.58 L498.44,102.84 L499.50,103.11 L500.55,103.37 L501.60,103.64 L502.65,103.91 L503.69,104.18 L504.73,104.45 L505.77,104.72 L506.80,105.00 L507.83,105.27 L508.85,105.55 L509.87,105.83 L510.89,106.10 L511.91,106.39 L512.91,106.67 L513.92,106.95 L514.92,107.24 L515.92,107.52 L516.92,107.81 L517.91,108.10 L518.89,108.39 L519.87,108.68 L520.85,108.98 L521.83,109.27 L522.80,109.57 L523.77,109.87 L524.73,110.17 L525.69,110.48 L526.64,110.78 L527.59,111.09 L528.54,111.40 L529.48,111.71 L530.42,112.02 L531.36,112.33 L532.29,112.65 L533.21,112.97 L534.13,113.29 L535.05,113.61 L535.97,113.94 L536.88,114.26 L537.78,114.59 L538.68,114.93 L539.58,115.26 L540.47,115.60 L541.36,115.93 L542.24,116.28 L543.12,116.62 L544.00,116.97 L544.87,117.32 L545.73,117.67 L546.60,118.02 L547.45,118.38 L548.31,118.74 L549.15,119.10 L550.00,119.47 L550.84,119.84 L551.67,120.21 L552.50,120.58 L553.33,120.96 L554.15,121.35 L554.96,121.73 L555.77,122.12 L556.58,122.51 L557.38,122.91 L558.18,123.31 L558.97,123.71 L559.76,124.12 L560.54,124.53 L561.32,124.94 L562.09,125.36 L562.86,125.79 L563.62,126.21 L564.37,126.65 L565.13,127.08 L565.87,127.52 L566.62,127.97 L567.35,128.42 L568.08,128.88 L568.81,129.34 L569.53,129.81 L570.25,130.28 L570.95,130.76 L571.66,131.24 L572.36,131.73 L573.05,132.22 L573.74,132.73 L574.42,133.23 L575.10,133.75 L575.77,134.27 L576.43,134.80 L577.09,135.34 L577.75,135.88 L578.40,136.43 L579.04,136.99 L579.67,137.56 L580.30,138.13 L580.93,138.72 L581.54,139.31 L582.15,139.91 L582.76,140.52 L583.36,141.15 L583.95,141.78 L584.53,142.42 L585.11,143.07 L585.68,143.74 L586.25,144.42 L586.81,145.11 L587.36,145.81 L587.90,146.52 L588.44,147.25 L588.97,147.99 L589.49,148.75 L590.01,149.52 L590.51,150.31 L591.01,151.12 L591.51,151.94 L591.99,152.78 L592.47,153.64 L592.94,154.51 L593.40,155.41 L593.85,156.33 L594.29,157.27 L594.72,158.23 L595.15,159.22 L595.57,160.23 L595.97,161.26 L596.37,162.32 L596.76,163.40 L597.13,164.52 L597.50,165.66 L597.86,166.83 L598.20,168.02 L598.54,169.25 L598.86,170.50 L599.17,171.78 L599.47,173.08 L599.75,174.41 L600.02,175.75 L600.28,177.10 L600.52,178.45 L600.74,179.79 L600.95,181.10 L601.13,182.37 L601.30,183.55 L601.43,184.60 L601.54,185.45 L601.60,185.93 L601.66,185.45 L601.77,184.60 L601.90,183.55 L602.07,182.37 L602.25,181.10 L602.46,179.79 L602.68,178.45 L602.92,177.10 L603.18,175.75 L603.45,174.41 L603.73,173.08 L604.03,171.78 L604.34,170.50 L604.66,169.25 L605.00,168.02 L605.34,166.83 L605.70,165.66 L606.07,164.52 L606.44,163.40 L606.83,162.32 L607.23,161.26 L607.63,160.23 L608.05,159.22 L608.48,158.23 L608.91,157.27 L609.35,156.33 L609.80,155.41 L610.26,154.51 L610.73,153.64 L611.21,152.78 L611.69,151.94 L612.19,151.12 L612.69,150.31 L613.19,149.52 L613.71,148.75 L614.23,147.99 L614.76,147.25 L615.30,146.52 L615.84,145.81 L616.39,145.11 L616.95,144.42 L617.52,143.74 L618.09,143.07 L618.67,142.42 L619.25,141.78 L619.84,141.15 L620.44,140.52 L621.05,139.91 L621.66,139.31 L622.27,138.72 L622.90,138.13 L623.53,137.56 L624.16,136.99 L624.80,136.43 L625.45,135.88 L626.11,135.34 L626.77,134.80 L627.43,134.27 L628.10,133.75 L628.78,133.23 L629.46,132.73 L630.15,132.22 L630.84,131.73 L631.54,131.24 L632.25,130.76 L632.95,130.28 L633.67,129.81 L634.39,129.34 L635.12,128.88 L635.85,128.42 L636.58,127.97 L637.33,127.52 L638.07,127.08 L638.83,126.65 L639.58,126.21 L640.34,125.79 L641.11,125.36 L641.88,124.94 L642.66,124.53 L643.44,124.12 L644.23,123.71 L645.02,123.31 L645.82,122.91 L646.62,122.51 L647.43,122.12 L648.24,121.73 L649.05,121.35 L649.87,120.96 L650.70,120.58 L651.53,120.21 L652.36,119.84 L653.20,119.47 L654.05,119.10 L654.89,118.74 L655.75,118.38 L656.60,118.02 L657.47,117.67 L658.33,117.32 L659.20,116.97 L660.08,116.62 L660.96,116.28 L661.84,115.93 L662.73,115.60 L663.62,115.26 L664.52,114.93 L665.42,114.59 L666.32,114.26 L667.23,113.94 L668.15,113.61 L669.07,113.29 L669.99,112.97 L670.91,112.65 L671.84,112.33 L672.78,112.02 L673.72,111.71 L674.66,111.40 L675.61,111.09 L676.56,110.78 L677.51,110.48 L678.47,110.17 L679.43,109.87 L680.40,109.57 L681.37,109.27 L682.35,108.98 L683.33,108.68 L684.31,108.39 L685.29,108.10 L686.28,107.81 L687.28,107.52 L688.28,107.24 L689.28,106.95 L690.29,106.67 L691.29,106.39 L692.31,106.10 L693.33,105.83 L694.35,105.55 L695.37,105.27 L696.40,105.00 L697.43,104.72 L698.47,104.45 L699.51,104.18 L700.55,103.91 L701.60,103.64 L702.65,103.37 L703.70,103.11 L704.76,102.84 L705.82,102.58 L706.89,102.32 L707.96,102.06 L709.03,101.80 L710.11,101.54 L711.19,101.28 L712.27,101.02 L713.36,100.77 L714.45,100.51 L715.54,100.26 L716.64,100.01 L717.74,99.75 L718.84,99.50 L719.95,99.25 L721.06,99.00 L722.18,98.76 L723.29,98.51 L724.42,98.26 L725.54,98.02 L726.67,97.78 L727.80,97.53 L728.94,97.29 L730.08,97.05 L731.22,96.81 L732.36,96.57 L733.51,96.33 L734.66,96.09 L735.82,95.85 L736.98,95.62 L738.14,95.38 L739.31,95.15 L740.47,94.91 L741.65,94.68 L742.82,94.45 L744.00,94.22 L745.18,93.99 L746.37,93.76 L747.55,93.53 L748.75,93.30 L749.94,93.07 L751.14,92.84 L752.34,92.62 L753.54,92.39 L754.75,92.16 L755.96,91.94 L757.18,91.72 L758.39,91.49 L759.61,91.27 L760.84,91.05 L762.06,90.83 L763.29,90.61 L764.53,90.39 L765.76,90.17 L767.00,89.95" stroke="#00ec00" stroke-width="2.6" stroke-dasharray="6.8 3.4"/>
<path d="M436.20,125.74 L437.44,125.86 L438.67,125.98 L439.91,126.09 L441.14,126.21 L442.36,126.34 L443.59,126.46 L444.81,126.58 L446.02,126.70 L447.24,126.83 L448.45,126.95 L449.66,127.08 L450.86,127.20 L452.06,127.33 L453.26,127.46 L454.45,127.59 L455.65,127.72 L456.83,127.85 L458.02,127.98 L459.20,128.11 L460.38,128.25 L461.55,128.38 L462.73,128.51 L463.89,128.65 L465.06,128.79 L466.22,128.93 L467.38,129.06 L468.54,129.20 L469.69,129.35 L470.84,129.49 L471.98,129.63 L473.12,129.77 L474.26,129.92 L475.40,130.06 L476.53,130.21 L477.66,130.36 L478.78,130.51 L479.91,130.66 L481.02,130.81 L482.14,130.96 L483.25,131.11 L484.36,131.27 L485.46,131.42 L486.56,131.58 L487.66,131.74 L488.75,131.90 L489.84,132.06 L490.93,132.22 L492.01,132.38 L493.09,132.54 L494.17,132.71 L495.24,132.87 L496.31,133.04 L497.38,133.21 L498.44,133.38 L499.50,133.55 L500.55,133.72 L501.60,133.90 L502.65,134.07 L503.69,134.25 L504.73,134.42 L505.77,134.60 L506.80,134.78 L507.83,134.96 L508.85,135.15 L509.87,135.33 L510.89,135.52 L511.91,135.71 L512.91,135.90 L513.92,136.09 L514.92,136.28 L515.92,136.47 L516.92,136.67 L517.91,136.86 L518.89,137.06 L519.87,137.26 L520.85,137.46 L521.83,137.67 L522.80,137.87 L523.77,138.08 L524.73,138.29 L525.69,138.50 L526.64,138.71 L527.59,138.92 L528.54,139.14 L529.48,139.36 L530.42,139.58 L531.36,139.80 L532.29,140.02 L533.21,140.25 L534.13,140.48 L535.05,140.70 L535.97,140.94 L536.88,141.17 L537.78,141.41 L538.68,141.64 L539.58,141.88 L540.47,142.13 L541.36,142.37 L542.24,142.62 L543.12,142.87 L544.00,143.12 L544.87,143.37 L545.73,143.63 L546.60,143.89 L547.45,144.15 L548.31,144.41 L549.15,144.68 L550.00,144.95 L550.84,145.22 L551.67,145.49 L552.50,145.77 L553.33,146.05 L554.15,146.33 L554.96,146.62 L555.77,146.90 L556.58,147.20 L557.38,147.49 L558.18,147.79 L558.97,148.09 L559.76,148.39 L560.54,148.70 L561.32,149.01 L562.09,149.32 L562.86,149.64 L563.62,149.96 L564.37,150.29 L565.13,150.61 L565.87,150.94 L566.62,151.28 L567.35,151.62 L568.08,151.96 L568.81,152.30 L569.53,152.63 L570.25,152.96 L570.95,153.30 L571.66,153.64 L572.36,153.99 L573.05,154.34 L573.74,154.70 L574.42,155.06 L575.10,155.43 L575.77,155.80 L576.43,156.17 L577.09,156.55 L577.75,156.94 L578.40,157.33 L579.04,157.73 L579.67,158.13 L580.30,158.54 L580.93,158.95 L581.54,159.37 L582.15,159.79 L582.76,160.23 L583.36,160.66 L583.95,161.11 L584.53,161.55 L585.11,162.01 L585.68,162.47 L586.25,162.94 L586.81,163.42 L587.36,163.90 L587.90,164.39 L588.44,164.88 L588.97,165.39 L589.49,165.89 L590.01,166.41 L590.51,166.94 L591.01,167.47 L591.51,168.00 L591.99,168.55 L592.47,169.10 L592.94,169.66 L593.40,170.23 L593.85,170.80 L594.29,171.38 L594.72,171.96 L595.15,172.56 L595.57,173.15 L595.97,173.76 L596.37,174.37 L596.76,174.98 L597.13,175.59 L597.50,176.21 L597.86,176.83 L598.20,177.46 L598.54,178.08 L598.86,178.69 L599.17,179.31 L599.47,179.92 L599.75,180.52 L600.02,181.11 L600.28,181.68 L600.52,182.24 L600.74,182.77 L600.95,183.27 L601.13,183.73 L601.30,184.15 L601.43,184.51 L601.54,184.80 L601.60,184.96 L601.66,184.80 L601.77,184.51 L601.90,184.15 L602.07,183.73 L602.25,183.27 L602.46,182.77 L602.68,182.24 L602.92,181.68 L603.18,181.11 L603.45,180.52 L603.73,179.92 L604.03,179.31 L604.34,178.69 L604.66,178.08 L605.00,177.46 L605.34,176.83 L605.70,176.21 L606.07,175.59 L606.44,174.98 L606.83,174.37 L607.23,173.76 L607.63,173.15 L608.05,172.56 L608.48,171.96 L608.91,171.38 L609.35,170.80 L609.80,170.23 L610.26,169.66 L610.73,169.10 L611.21,168.55 L611.69,168.00 L612.19,167.47 L612.69,166.94 L613.19,166.41 L613.71,165.89 L614.23,165.39 L614.76,164.88 L615.30,164.39 L615.84,163.90 L616.39,163.42 L616.95,162.94 L617.52,162.47 L618.09,162.01 L618.67,161.55 L619.25,161.11 L619.84,160.66 L620.44,160.23 L621.05,159.79 L621.66,159.37 L622.27,158.95 L622.90,158.54 L623.53,158.13 L624.16,157.73 L624.80,157.33 L625.45,156.94 L626.11,156.55 L626.77,156.17 L627.43,155.80 L628.10,155.43 L628.78,155.06 L629.46,154.70 L630.15,154.34 L630.84,153.99 L631.54,153.64 L632.25,153.30 L632.95,152.96 L633.67,152.63 L634.39,152.30 L635.12,151.96 L635.85,151.62 L636.58,151.28 L637.33,150.94 L638.07,150.61 L638.83,150.29 L639.58,149.96 L640.34,149.64 L641.11,149.32 L641.88,149.01 L642.66,148.70 L643.44,148.39 L644.23,148.09 L645.02,147.79 L645.82,147.49 L646.62,147.20 L647.43,146.90 L648.24,146.62 L649.05,146.33 L649.87,146.05 L650.70,145.77 L651.53,145.49 L652.36,145.22 L653.20,144.95 L654.05,144.68 L654.89,144.41 L655.75,144.15 L656.60,143.89 L657.47,143.63 L658.33,143.37 L659.20,143.12 L660.08,142.87 L660.96,142.62 L661.84,142.37 L662.73,142.13 L663.62,141.88 L664.52,141.64 L665.42,141.41 L666.32,141.17 L667.23,140.94 L668.15,140.70 L669.07,140.48 L669.99,140.25 L670.91,140.02 L671.84,139.80 L672.78,139.58 L673.72,139.36 L674.66,139.14 L675.61,138.92 L676.56,138.71 L677.51,138.50 L678.47,138.29 L679.43,138.08 L680.40,137.87 L681.37,137.67 L682.35,137.46 L683.33,137.26 L684.31,137.06 L685.29,136.86 L686.28,136.67 L687.28,136.47 L688.28,136.28 L689.28,136.09 L690.29,135.90 L691.29,135.71 L692.31,135.52 L693.33,135.33 L694.35,135.15 L695.37,134.96 L696.40,134.78 L697.43,134.60 L698.47,134.42 L699.51,134.25 L700.55,134.07 L701.60,133.90 L702.65,133.72 L703.70,133.55 L704.76,133.38 L705.82,133.21 L706.89,133.04 L707.96,132.87 L709.03,132.71 L710.11,132.54 L711.19,132.38 L712.27,132.22 L713.36,132.06 L714.45,131.90 L715.54,131.74 L716.64,131.58 L717.74,131.42 L718.84,131.27 L719.95,131.11 L721.06,130.96 L722.18,130.81 L723.29,130.66 L724.42,130.51 L725.54,130.36 L726.67,130.21 L727.80,130.06 L728.94,129.92 L730.08,129.77 L731.22,129.63 L732.36,129.49 L733.51,129.35 L734.66,129.20 L735.82,129.06 L736.98,128.93 L738.14,128.79 L739.31,128.65 L740.47,128.51 L741.65,128.38 L742.82,128.25 L744.00,128.11 L745.18,127.98 L746.37,127.85 L747.55,127.72 L748.75,127.59 L749.94,127.46 L751.14,127.33 L752.34,127.20 L753.54,127.08 L754.75,126.95 L755.96,126.83 L757.18,126.70 L758.39,126.58 L759.61,126.46 L760.84,126.34 L762.06,126.21 L763.29,126.09 L764.53,125.98 L765.76,125.86 L767.00,125.74" stroke="#f80808" stroke-width="2.6"/>
</g>
<g clip-path="url(#cf)">
<polygon points="601.6,188.0 588.0,185.5 576.0,180.0 566.0,170.0 559.0,156.0 555.0,138.0 553.0,118.0 553.0,110.0 650.2,110.0 650.2,118.0 648.2,138.0 644.2,156.0 637.2,170.0 627.2,180.0 615.2,185.5 601.6,188.0" fill="#fcaa0a" opacity="0.36" filter="url(#bl2)"/>
<polygon points="601.6,187.0 599.6,185.0 597.6,182.9 595.8,180.9 595.0,178.8 594.2,176.8 593.5,174.8 592.9,172.7 592.2,170.7 591.5,168.7 590.9,166.6 590.3,164.6 589.7,162.6 589.1,160.5 588.3,158.5 587.5,156.4 586.5,154.4 585.2,152.4 584.0,150.3 583.0,148.3 582.1,146.2 581.2,144.2 580.2,142.2 578.8,140.1 577.3,138.1 575.5,136.1 573.6,134.0 571.6,132.0 569.6,129.9 567.7,127.9 565.9,125.9 564.2,123.8 562.6,121.8 561.1,119.8 559.6,117.7 558.0,115.7 556.5,113.7 554.9,111.6 553.2,109.6 551.6,107.5 550.1,105.5 552.7,106.1 555.3,106.6 557.8,107.2 560.4,107.7 563.0,108.1 565.6,108.6 568.1,109.0 570.7,109.3 573.3,109.7 575.9,110.0 578.4,110.3 581.0,110.5 583.6,110.8 586.2,111.0 588.7,111.1 591.3,111.3 593.9,111.4 596.5,111.4 599.0,111.5 601.6,111.5 604.2,111.5 606.7,111.4 609.3,111.4 611.9,111.3 614.5,111.1 617.0,111.0 619.6,110.8 622.2,110.5 624.8,110.3 627.3,110.0 629.9,109.7 632.5,109.3 635.1,109.0 637.6,108.6 640.2,108.1 642.8,107.7 645.4,107.2 647.9,106.6 650.5,106.1 653.1,105.5 651.6,107.5 650.0,109.6 648.3,111.6 646.7,113.7 645.2,115.7 643.6,117.7 642.1,119.8 640.6,121.8 639.0,123.8 637.3,125.9 635.5,127.9 633.6,129.9 631.6,132.0 629.6,134.0 627.7,136.1 625.9,138.1 624.4,140.1 623.0,142.2 622.0,144.2 621.1,146.2 620.2,148.3 619.2,150.3 618.0,152.4 616.7,154.4 615.7,156.4 614.9,158.5 614.1,160.5 613.5,162.6 612.9,164.6 612.3,166.6 611.7,168.7 611.0,170.7 610.3,172.7 609.7,174.8 609.0,176.8 608.2,178.8 607.4,180.9 605.6,182.9 603.6,185.0 601.6,187.0" fill="#fcaa0a" opacity="0.55" filter="url(#bl3)"/>
</g>
<polygon points="601.6,185.5 600.7,183.5 599.7,181.5 598.8,179.6 598.0,177.6 597.3,175.6 596.6,173.6 596.0,171.6 595.3,169.7 594.7,167.7 594.1,165.7 593.5,163.7 592.9,161.7 592.3,159.8 591.6,157.8 590.9,155.8 590.0,153.8 588.9,151.8 587.6,149.9 586.5,147.9 585.6,145.9 584.8,143.9 583.8,141.9 582.7,140.0 581.4,138.0 579.8,136.0 578.0,134.0 576.1,132.0 574.2,130.1 572.3,128.1 570.4,126.1 568.7,124.1 567.1,122.1 565.5,120.2 564.0,118.2 562.5,116.2 561.1,114.2 559.6,112.2 558.0,110.3 556.4,108.3 554.8,106.3 557.2,106.7 559.5,107.1 561.8,107.5 564.2,107.8 566.5,108.1 568.9,108.4 571.2,108.7 573.5,109.0 575.9,109.2 578.2,109.5 580.6,109.6 582.9,109.8 585.2,110.0 587.6,110.1 589.9,110.2 592.2,110.3 594.6,110.4 596.9,110.5 599.3,110.5 601.6,110.5 603.9,110.5 606.3,110.5 608.6,110.4 611.0,110.3 613.3,110.2 615.6,110.1 618.0,110.0 620.3,109.8 622.6,109.6 625.0,109.5 627.3,109.2 629.7,109.0 632.0,108.7 634.3,108.4 636.7,108.1 639.0,107.8 641.4,107.5 643.7,107.1 646.0,106.7 648.4,106.3 646.8,108.3 645.2,110.3 643.6,112.2 642.1,114.2 640.7,116.2 639.2,118.2 637.7,120.2 636.1,122.1 634.5,124.1 632.8,126.1 630.9,128.1 629.0,130.1 627.1,132.0 625.2,134.0 623.4,136.0 621.8,138.0 620.5,140.0 619.4,141.9 618.4,143.9 617.6,145.9 616.7,147.9 615.6,149.9 614.3,151.8 613.2,153.8 612.3,155.8 611.6,157.8 610.9,159.8 610.3,161.7 609.7,163.7 609.1,165.7 608.5,167.7 607.9,169.7 607.2,171.6 606.6,173.6 605.9,175.6 605.2,177.6 604.4,179.6 603.5,181.5 602.5,183.5 601.6,185.5" fill="#fcaa0a" opacity="1" filter="url(#bl1)"/>
</g>
<rect x="429.5" y="9.5" width="344.0" height="204.0" fill="none" stroke="#a4a4a4" stroke-width="1"/>
<rect x="534.5" y="11.5" width="142" height="64" fill="#fff" stroke="#9c9c9c" stroke-width="1"/>
<path d="M534.5,75.5H676.5V11.5" stroke="#6a6a6a" stroke-width="1" fill="none"/>
<path d="M541.8,25.4H589" stroke="#0a0aff" stroke-width="2.8" stroke-dasharray="1.5 0.8"/>
<path d="M541.8,43.7H587" stroke="#00ec00" stroke-width="2.8" stroke-dasharray="3.4 1.7"/>
<path d="M541.8,61.4H589" stroke="#f80808" stroke-width="2.6"/>
<g font-family="Liberation Serif" font-size="17.4" fill="#000" text-anchor="middle">
<text x="635.9" y="30.6">d = 50 nm</text>
<text x="635.9" y="49.4">d = 10 nm</text>
<text x="636" y="67.6">d = 2 nm</text>
</g>
<g font-family="Liberation Serif" font-size="16.35" fill="#000">
<text x="553.8" y="89.5">Plasma waves</text>
</g>
<g font-family="Liberation Serif" font-size="16.4" fill="#000">
<text x="538.8" y="202.9">Electron-hole sound</text>
</g>
<path d="M552.5,93.7H647.9 M633.4,93.7L667.5,141.9 M639.5,93.7L658.6,118.5 M647.9,93.7L652.5,99" stroke="#111" stroke-width="0.8" fill="none"/>
<g font-family="Liberation Serif" font-size="16" fill="#000">
<text x="38.8" y="226.20" text-anchor="end">0</text>
<text x="38.8" y="173.93" text-anchor="end">5</text>
<text x="38.8" y="121.65" text-anchor="end">10</text>
<text x="38.8" y="69.38" text-anchor="end">15</text>
<text x="38.8" y="17.10" text-anchor="end">20</text>
<text x="47.40" y="235.6" text-anchor="middle">0</text>
<text x="112.60" y="235.6" text-anchor="middle">10</text>
<text x="177.80" y="235.6" text-anchor="middle">20</text>
<text x="243.00" y="235.6" text-anchor="middle">30</text>
<text x="308.20" y="235.6" text-anchor="middle">40</text>
<text x="373.40" y="235.6" text-anchor="middle">50</text>
<text x="428" y="208.50" text-anchor="end">0</text>
<text x="428" y="160.00" text-anchor="end">2</text>
<text x="428" y="111.50" text-anchor="end">4</text>
<text x="428" y="63.00" text-anchor="end">6</text>
<text x="428" y="14.50" text-anchor="end">8</text>
<rect x="423.70" y="225.15" width="7.4" height="1.25" fill="#000"/>
<text x="433.30" y="229.6">10</text>
<rect x="510.53" y="225.15" width="7.4" height="1.25" fill="#000"/>
<text x="519.93" y="229.6">5</text>
<text x="601.60" y="229.6" text-anchor="middle">0</text>
<text x="684.30" y="229.6" text-anchor="middle">5</text>
<text x="767.00" y="229.6" text-anchor="middle">10</text>
</g>
<g font-family="Liberation Serif" fill="#000">
<text transform="translate(17.2,115.2) rotate(-90)" text-anchor="middle" font-size="16.3">Frequency, THz</text>
<text x="209.8" y="255.9" text-anchor="middle" font-size="16.8">Wave number, <tspan font-style="italic">μ</tspan>m<tspan font-size="11.5" dy="-6" dx="0.8">−1</tspan></text>
<text transform="translate(413.2,117.4) rotate(-90)" text-anchor="middle" font-size="17">Normalized wave velocity, s/v <tspan font-style="italic" font-size="12.5" dy="3.6">F</tspan></text>
<text x="601" y="251.8" text-anchor="middle" font-size="16.8">Gate voltage, <tspan font-style="italic">V</tspan><tspan font-style="italic" font-size="12" dy="3.2">G</tspan></text>
</g>
<g font-family="Liberation Serif" font-size="18.2" fill="#000" text-anchor="middle">
<text x="311.7" y="60">Plasma wave,</text>
<text x="312.5" y="80">V<tspan font-size="11" dy="3.6">G</tspan><tspan dy="-3.6"> = 10 V</tspan></text>
<text x="327.9" y="133.3">Plasma wave,</text>
<text x="328" y="154.8">V<tspan font-size="11" dy="3.6">G</tspan><tspan dy="-3.6"> = 1 V</tspan></text>
<text x="291.8" y="216">Electron-hole sound</text>
</g>
<g font-family="Liberation Serif" font-size="24" fill="#000">
<text x="1.4" y="255">(a)</text>
<text x="395.2" y="255">(b)</text>
</g>
</g>
</svg>
</body></html>
